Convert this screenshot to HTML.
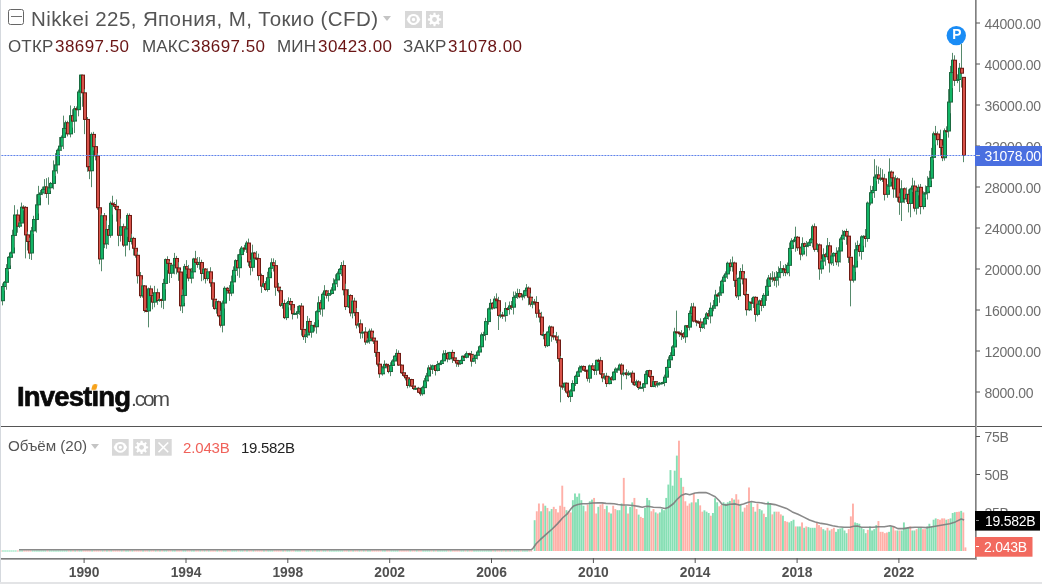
<!DOCTYPE html>
<html><head><meta charset="utf-8"><style>
*{margin:0;padding:0;box-sizing:border-box}
html,body{width:1042px;height:584px;overflow:hidden;background:#fff}
body{position:relative;font-family:"Liberation Sans",sans-serif}
.t,svg{will-change:transform}
.ax{font-family:"Liberation Sans",sans-serif;font-size:14px;letter-spacing:-0.25px;fill:#6e6e6e}
.tx{font-family:"Liberation Sans",sans-serif;font-size:13.8px;font-weight:bold;fill:#505050}
.t{position:absolute;white-space:nowrap;line-height:1}
#lb{position:absolute;left:0;top:0;width:1px;height:584px;background:#d5d9de}
#bb{position:absolute;left:0;top:582px;width:1042px;height:2px;background:#e3e4e6}
.lab{color:#4d4d4d} .val{color:#6a1414;letter-spacing:0.45px!important}
.ib{position:absolute;width:16px;height:16px;background:#dcdcdc}
</style></head><body>
<svg width="1042" height="584" viewBox="0 0 1042 584" style="position:absolute;left:0;top:0">
<g><rect x="-3" y="288.34" width="1" height="13.68" fill="#568a6c"/><rect x="-4" y="290.51" width="4" height="7.69" fill="#1b6a40"/><rect x="-3" y="291.51" width="2" height="5.69" fill="#12b566"/><rect x="0" y="284.95" width="1" height="19.08" fill="#568a6c"/><rect x="-1" y="290.51" width="4" height="10.67" fill="#6e1a13"/><rect x="0" y="291.51" width="2" height="8.67" fill="#d9534a"/><rect x="2" y="283.41" width="1" height="21.93" fill="#568a6c"/><rect x="1" y="286.01" width="4" height="15.17" fill="#1b6a40"/><rect x="2" y="287.01" width="2" height="13.17" fill="#12b566"/><rect x="4" y="280.92" width="1" height="9.69" fill="#568a6c"/><rect x="3" y="281.81" width="4" height="5.19" fill="#1b6a40"/><rect x="4" y="282.81" width="2" height="3.19" fill="#12b566"/><rect x="6" y="264.15" width="1" height="25.56" fill="#568a6c"/><rect x="5" y="268.01" width="4" height="14.81" fill="#1b6a40"/><rect x="6" y="269.01" width="2" height="12.81" fill="#12b566"/><rect x="8" y="256.08" width="1" height="15.29" fill="#568a6c"/><rect x="7" y="256.84" width="4" height="12.17" fill="#1b6a40"/><rect x="8" y="257.84" width="2" height="10.17" fill="#12b566"/><rect x="10" y="251.67" width="1" height="13.83" fill="#568a6c"/><rect x="9" y="252.44" width="4" height="5.40" fill="#1b6a40"/><rect x="10" y="253.44" width="2" height="3.40" fill="#12b566"/><rect x="12" y="229.72" width="1" height="24.95" fill="#568a6c"/><rect x="11" y="234.93" width="4" height="18.51" fill="#1b6a40"/><rect x="12" y="235.93" width="2" height="16.51" fill="#12b566"/><rect x="14" y="205.18" width="1" height="42.33" fill="#568a6c"/><rect x="13" y="214.53" width="4" height="21.40" fill="#1b6a40"/><rect x="14" y="215.53" width="2" height="19.40" fill="#12b566"/><rect x="17" y="209.52" width="1" height="23.19" fill="#568a6c"/><rect x="16" y="214.53" width="4" height="12.16" fill="#6e1a13"/><rect x="17" y="215.53" width="2" height="10.16" fill="#d9534a"/><rect x="19" y="221.30" width="1" height="6.67" fill="#568a6c"/><rect x="18" y="222.50" width="4" height="4.20" fill="#1b6a40"/><rect x="19" y="223.50" width="2" height="2.20" fill="#12b566"/><rect x="21" y="202.60" width="1" height="22.39" fill="#568a6c"/><rect x="20" y="206.70" width="4" height="16.80" fill="#1b6a40"/><rect x="21" y="207.70" width="2" height="14.80" fill="#12b566"/><rect x="23" y="205.23" width="1" height="5.18" fill="#568a6c"/><rect x="22" y="206.70" width="4" height="2.00" fill="#6e1a13"/><rect x="25" y="206.16" width="1" height="52.22" fill="#568a6c"/><rect x="24" y="206.89" width="4" height="28.49" fill="#6e1a13"/><rect x="25" y="207.89" width="2" height="26.49" fill="#d9534a"/><rect x="27" y="231.59" width="1" height="18.92" fill="#568a6c"/><rect x="26" y="234.38" width="4" height="7.58" fill="#6e1a13"/><rect x="27" y="235.38" width="2" height="5.58" fill="#d9534a"/><rect x="29" y="237.72" width="1" height="21.34" fill="#568a6c"/><rect x="28" y="240.96" width="4" height="12.51" fill="#6e1a13"/><rect x="29" y="241.96" width="2" height="10.51" fill="#d9534a"/><rect x="31" y="226.94" width="1" height="33.01" fill="#568a6c"/><rect x="30" y="230.38" width="4" height="23.09" fill="#1b6a40"/><rect x="31" y="231.38" width="2" height="21.09" fill="#12b566"/><rect x="33" y="215.76" width="1" height="18.29" fill="#568a6c"/><rect x="32" y="219.00" width="4" height="12.38" fill="#1b6a40"/><rect x="33" y="220.00" width="2" height="10.38" fill="#12b566"/><rect x="36" y="194.37" width="1" height="38.24" fill="#568a6c"/><rect x="35" y="204.34" width="4" height="15.67" fill="#1b6a40"/><rect x="36" y="205.34" width="2" height="13.67" fill="#12b566"/><rect x="38" y="185.84" width="1" height="27.71" fill="#568a6c"/><rect x="37" y="193.93" width="4" height="11.40" fill="#1b6a40"/><rect x="38" y="194.93" width="2" height="9.40" fill="#12b566"/><rect x="40" y="190.05" width="1" height="7.47" fill="#568a6c"/><rect x="39" y="192.47" width="4" height="2.47" fill="#1b6a40"/><rect x="40" y="193.47" width="2" height="0.47" fill="#12b566"/><rect x="42" y="186.61" width="1" height="8.52" fill="#568a6c"/><rect x="41" y="188.86" width="4" height="4.61" fill="#1b6a40"/><rect x="42" y="189.86" width="2" height="2.61" fill="#12b566"/><rect x="44" y="179.10" width="1" height="15.06" fill="#568a6c"/><rect x="43" y="186.41" width="4" height="3.45" fill="#1b6a40"/><rect x="44" y="187.41" width="2" height="1.45" fill="#12b566"/><rect x="46" y="178.20" width="1" height="19.84" fill="#568a6c"/><rect x="45" y="186.41" width="4" height="7.59" fill="#6e1a13"/><rect x="46" y="187.41" width="2" height="5.59" fill="#d9534a"/><rect x="48" y="177.26" width="1" height="27.46" fill="#568a6c"/><rect x="47" y="187.28" width="4" height="6.72" fill="#1b6a40"/><rect x="48" y="188.28" width="2" height="4.72" fill="#12b566"/><rect x="50" y="181.97" width="1" height="8.85" fill="#568a6c"/><rect x="49" y="182.92" width="4" height="5.36" fill="#1b6a40"/><rect x="50" y="183.92" width="2" height="3.36" fill="#12b566"/><rect x="53" y="160.43" width="1" height="28.92" fill="#568a6c"/><rect x="52" y="170.32" width="4" height="13.61" fill="#1b6a40"/><rect x="53" y="171.32" width="2" height="11.61" fill="#12b566"/><rect x="55" y="153.14" width="1" height="22.80" fill="#568a6c"/><rect x="54" y="164.37" width="4" height="6.95" fill="#1b6a40"/><rect x="55" y="165.37" width="2" height="4.95" fill="#12b566"/><rect x="57" y="148.51" width="1" height="25.11" fill="#568a6c"/><rect x="56" y="149.79" width="4" height="15.58" fill="#1b6a40"/><rect x="57" y="150.79" width="2" height="13.58" fill="#12b566"/><rect x="59" y="137.04" width="1" height="17.25" fill="#568a6c"/><rect x="58" y="145.64" width="4" height="5.15" fill="#1b6a40"/><rect x="59" y="146.64" width="2" height="3.15" fill="#12b566"/><rect x="61" y="135.49" width="1" height="15.44" fill="#568a6c"/><rect x="60" y="136.90" width="4" height="9.74" fill="#1b6a40"/><rect x="61" y="137.90" width="2" height="7.74" fill="#12b566"/><rect x="63" y="115.63" width="1" height="33.50" fill="#568a6c"/><rect x="62" y="127.94" width="4" height="9.96" fill="#1b6a40"/><rect x="63" y="128.94" width="2" height="7.96" fill="#12b566"/><rect x="65" y="120.62" width="1" height="11.85" fill="#568a6c"/><rect x="64" y="122.26" width="4" height="6.68" fill="#1b6a40"/><rect x="65" y="123.26" width="2" height="4.68" fill="#12b566"/><rect x="67" y="120.77" width="1" height="15.65" fill="#568a6c"/><rect x="66" y="122.26" width="4" height="12.11" fill="#6e1a13"/><rect x="67" y="123.26" width="2" height="10.11" fill="#d9534a"/><rect x="70" y="105.46" width="1" height="31.87" fill="#568a6c"/><rect x="69" y="115.22" width="4" height="19.15" fill="#1b6a40"/><rect x="70" y="116.22" width="2" height="17.15" fill="#12b566"/><rect x="72" y="109.22" width="1" height="18.42" fill="#568a6c"/><rect x="71" y="115.22" width="4" height="6.36" fill="#6e1a13"/><rect x="72" y="116.22" width="2" height="4.36" fill="#d9534a"/><rect x="74" y="106.02" width="1" height="26.93" fill="#568a6c"/><rect x="73" y="108.22" width="4" height="13.36" fill="#1b6a40"/><rect x="74" y="109.22" width="2" height="11.36" fill="#12b566"/><rect x="76" y="106.42" width="1" height="13.32" fill="#568a6c"/><rect x="75" y="108.22" width="4" height="2.00" fill="#6e1a13"/><rect x="78" y="89.67" width="1" height="26.65" fill="#568a6c"/><rect x="77" y="91.49" width="4" height="18.63" fill="#1b6a40"/><rect x="78" y="92.49" width="2" height="16.63" fill="#12b566"/><rect x="80" y="74.69" width="1" height="22.15" fill="#568a6c"/><rect x="79" y="74.61" width="4" height="17.88" fill="#1b6a40"/><rect x="80" y="75.61" width="2" height="15.88" fill="#12b566"/><rect x="82" y="77.20" width="1" height="29.56" fill="#568a6c"/><rect x="81" y="74.61" width="4" height="18.70" fill="#6e1a13"/><rect x="82" y="75.61" width="2" height="16.70" fill="#d9534a"/><rect x="84" y="89.24" width="1" height="44.91" fill="#568a6c"/><rect x="83" y="92.31" width="4" height="27.62" fill="#6e1a13"/><rect x="84" y="93.31" width="2" height="25.62" fill="#d9534a"/><rect x="87" y="117.03" width="1" height="54.74" fill="#568a6c"/><rect x="86" y="118.93" width="4" height="48.27" fill="#6e1a13"/><rect x="87" y="119.93" width="2" height="46.27" fill="#d9534a"/><rect x="89" y="157.17" width="1" height="21.97" fill="#568a6c"/><rect x="88" y="166.21" width="4" height="5.05" fill="#6e1a13"/><rect x="89" y="167.21" width="2" height="3.05" fill="#d9534a"/><rect x="91" y="132.42" width="1" height="54.73" fill="#568a6c"/><rect x="90" y="133.91" width="4" height="37.35" fill="#1b6a40"/><rect x="91" y="134.91" width="2" height="35.35" fill="#12b566"/><rect x="93" y="131.83" width="1" height="18.65" fill="#568a6c"/><rect x="92" y="133.91" width="4" height="13.21" fill="#6e1a13"/><rect x="93" y="134.91" width="2" height="11.21" fill="#d9534a"/><rect x="95" y="137.87" width="1" height="22.50" fill="#568a6c"/><rect x="94" y="146.12" width="4" height="10.27" fill="#6e1a13"/><rect x="95" y="147.12" width="2" height="8.27" fill="#d9534a"/><rect x="97" y="153.26" width="1" height="56.50" fill="#568a6c"/><rect x="96" y="155.38" width="4" height="52.84" fill="#6e1a13"/><rect x="97" y="156.38" width="2" height="50.84" fill="#d9534a"/><rect x="99" y="206.49" width="1" height="57.73" fill="#568a6c"/><rect x="98" y="207.23" width="4" height="52.19" fill="#6e1a13"/><rect x="99" y="208.23" width="2" height="50.19" fill="#d9534a"/><rect x="101" y="213.56" width="1" height="57.68" fill="#568a6c"/><rect x="100" y="215.26" width="4" height="44.15" fill="#1b6a40"/><rect x="101" y="216.26" width="2" height="42.15" fill="#12b566"/><rect x="104" y="213.00" width="1" height="35.17" fill="#568a6c"/><rect x="103" y="215.26" width="4" height="29.07" fill="#6e1a13"/><rect x="104" y="216.26" width="2" height="27.07" fill="#d9534a"/><rect x="106" y="220.55" width="1" height="28.21" fill="#568a6c"/><rect x="105" y="229.05" width="4" height="15.29" fill="#1b6a40"/><rect x="106" y="230.05" width="2" height="13.29" fill="#12b566"/><rect x="108" y="225.01" width="1" height="19.88" fill="#568a6c"/><rect x="107" y="229.05" width="4" height="6.70" fill="#6e1a13"/><rect x="108" y="230.05" width="2" height="4.70" fill="#d9534a"/><rect x="110" y="201.35" width="1" height="36.37" fill="#568a6c"/><rect x="109" y="202.81" width="4" height="32.94" fill="#1b6a40"/><rect x="110" y="203.81" width="2" height="30.94" fill="#12b566"/><rect x="112" y="195.75" width="1" height="18.84" fill="#568a6c"/><rect x="111" y="202.81" width="4" height="2.20" fill="#6e1a13"/><rect x="112" y="203.81" width="2" height="0.20" fill="#d9534a"/><rect x="114" y="202.18" width="1" height="6.84" fill="#568a6c"/><rect x="113" y="204.01" width="4" height="2.86" fill="#6e1a13"/><rect x="114" y="205.01" width="2" height="0.86" fill="#d9534a"/><rect x="116" y="199.50" width="1" height="22.07" fill="#568a6c"/><rect x="115" y="205.86" width="4" height="4.29" fill="#6e1a13"/><rect x="116" y="206.86" width="2" height="2.29" fill="#d9534a"/><rect x="118" y="207.86" width="1" height="38.32" fill="#568a6c"/><rect x="117" y="209.15" width="4" height="26.61" fill="#6e1a13"/><rect x="118" y="210.15" width="2" height="24.61" fill="#d9534a"/><rect x="120" y="218.64" width="1" height="22.98" fill="#568a6c"/><rect x="119" y="226.26" width="4" height="9.51" fill="#1b6a40"/><rect x="120" y="227.26" width="2" height="7.51" fill="#12b566"/><rect x="123" y="223.66" width="1" height="23.25" fill="#568a6c"/><rect x="122" y="226.26" width="4" height="19.30" fill="#6e1a13"/><rect x="123" y="227.26" width="2" height="17.30" fill="#d9534a"/><rect x="125" y="227.59" width="1" height="28.87" fill="#568a6c"/><rect x="124" y="228.36" width="4" height="17.19" fill="#1b6a40"/><rect x="125" y="229.36" width="2" height="15.19" fill="#12b566"/><rect x="127" y="213.30" width="1" height="23.58" fill="#568a6c"/><rect x="126" y="214.97" width="4" height="14.39" fill="#1b6a40"/><rect x="127" y="215.97" width="2" height="12.39" fill="#12b566"/><rect x="129" y="213.41" width="1" height="36.83" fill="#568a6c"/><rect x="128" y="214.97" width="4" height="26.98" fill="#6e1a13"/><rect x="129" y="215.97" width="2" height="24.98" fill="#d9534a"/><rect x="131" y="233.73" width="1" height="10.77" fill="#568a6c"/><rect x="130" y="237.91" width="4" height="4.04" fill="#1b6a40"/><rect x="131" y="238.91" width="2" height="2.04" fill="#12b566"/><rect x="133" y="236.81" width="1" height="18.64" fill="#568a6c"/><rect x="132" y="237.91" width="4" height="10.85" fill="#6e1a13"/><rect x="133" y="238.91" width="2" height="8.85" fill="#d9534a"/><rect x="135" y="247.07" width="1" height="10.60" fill="#568a6c"/><rect x="134" y="247.76" width="4" height="8.01" fill="#6e1a13"/><rect x="135" y="248.76" width="2" height="6.01" fill="#d9534a"/><rect x="137" y="251.62" width="1" height="31.92" fill="#568a6c"/><rect x="136" y="254.78" width="4" height="21.43" fill="#6e1a13"/><rect x="137" y="255.78" width="2" height="19.43" fill="#d9534a"/><rect x="140" y="272.03" width="1" height="25.94" fill="#568a6c"/><rect x="139" y="275.20" width="4" height="21.04" fill="#6e1a13"/><rect x="140" y="276.20" width="2" height="19.04" fill="#d9534a"/><rect x="142" y="279.42" width="1" height="18.26" fill="#568a6c"/><rect x="141" y="285.43" width="4" height="10.81" fill="#1b6a40"/><rect x="142" y="286.43" width="2" height="8.81" fill="#12b566"/><rect x="144" y="285.11" width="1" height="27.37" fill="#568a6c"/><rect x="143" y="285.43" width="4" height="25.56" fill="#6e1a13"/><rect x="144" y="286.43" width="2" height="23.56" fill="#d9534a"/><rect x="146" y="308.15" width="1" height="3.99" fill="#568a6c"/><rect x="145" y="309.99" width="4" height="2.00" fill="#6e1a13"/><rect x="148" y="287.56" width="1" height="39.78" fill="#568a6c"/><rect x="147" y="288.37" width="4" height="23.05" fill="#1b6a40"/><rect x="148" y="289.37" width="2" height="21.05" fill="#12b566"/><rect x="150" y="285.50" width="1" height="11.70" fill="#568a6c"/><rect x="149" y="288.37" width="4" height="7.79" fill="#6e1a13"/><rect x="150" y="289.37" width="2" height="5.79" fill="#d9534a"/><rect x="152" y="293.65" width="1" height="15.68" fill="#568a6c"/><rect x="151" y="295.16" width="4" height="7.47" fill="#6e1a13"/><rect x="152" y="296.16" width="2" height="5.47" fill="#d9534a"/><rect x="154" y="285.86" width="1" height="21.42" fill="#568a6c"/><rect x="153" y="292.24" width="4" height="10.39" fill="#1b6a40"/><rect x="154" y="293.24" width="2" height="8.39" fill="#12b566"/><rect x="157" y="288.60" width="1" height="16.21" fill="#568a6c"/><rect x="156" y="292.24" width="4" height="8.78" fill="#6e1a13"/><rect x="157" y="293.24" width="2" height="6.78" fill="#d9534a"/><rect x="159" y="298.38" width="1" height="3.40" fill="#568a6c"/><rect x="158" y="299.00" width="4" height="2.01" fill="#1b6a40"/><rect x="159" y="300.00" width="2" height="0.01" fill="#12b566"/><rect x="161" y="298.63" width="1" height="9.10" fill="#568a6c"/><rect x="160" y="299.00" width="4" height="2.00" fill="#6e1a13"/><rect x="163" y="278.82" width="1" height="30.28" fill="#568a6c"/><rect x="162" y="282.94" width="4" height="17.79" fill="#1b6a40"/><rect x="163" y="283.94" width="2" height="15.79" fill="#12b566"/><rect x="165" y="258.49" width="1" height="30.82" fill="#568a6c"/><rect x="164" y="259.08" width="4" height="24.86" fill="#1b6a40"/><rect x="165" y="260.08" width="2" height="22.86" fill="#12b566"/><rect x="167" y="256.30" width="1" height="13.87" fill="#568a6c"/><rect x="166" y="259.08" width="4" height="4.76" fill="#6e1a13"/><rect x="167" y="260.08" width="2" height="2.76" fill="#d9534a"/><rect x="169" y="261.24" width="1" height="21.78" fill="#568a6c"/><rect x="168" y="262.84" width="4" height="10.85" fill="#6e1a13"/><rect x="169" y="263.84" width="2" height="8.85" fill="#d9534a"/><rect x="171" y="263.95" width="1" height="14.04" fill="#568a6c"/><rect x="170" y="264.61" width="4" height="9.09" fill="#1b6a40"/><rect x="171" y="265.61" width="2" height="7.09" fill="#12b566"/><rect x="174" y="252.90" width="1" height="21.37" fill="#568a6c"/><rect x="173" y="257.97" width="4" height="7.63" fill="#1b6a40"/><rect x="174" y="258.97" width="2" height="5.63" fill="#12b566"/><rect x="176" y="255.87" width="1" height="18.42" fill="#568a6c"/><rect x="175" y="257.97" width="4" height="10.44" fill="#6e1a13"/><rect x="176" y="258.97" width="2" height="8.44" fill="#d9534a"/><rect x="178" y="262.16" width="1" height="18.65" fill="#568a6c"/><rect x="177" y="267.41" width="4" height="5.13" fill="#6e1a13"/><rect x="178" y="268.41" width="2" height="3.13" fill="#d9534a"/><rect x="180" y="270.13" width="1" height="40.72" fill="#568a6c"/><rect x="179" y="271.54" width="4" height="34.77" fill="#6e1a13"/><rect x="180" y="272.54" width="2" height="32.77" fill="#d9534a"/><rect x="182" y="289.45" width="1" height="23.63" fill="#568a6c"/><rect x="181" y="294.98" width="4" height="11.34" fill="#1b6a40"/><rect x="182" y="295.98" width="2" height="9.34" fill="#12b566"/><rect x="184" y="263.88" width="1" height="39.03" fill="#568a6c"/><rect x="183" y="266.15" width="4" height="29.82" fill="#1b6a40"/><rect x="184" y="267.15" width="2" height="27.82" fill="#12b566"/><rect x="186" y="260.12" width="1" height="13.88" fill="#568a6c"/><rect x="185" y="266.15" width="4" height="3.38" fill="#6e1a13"/><rect x="186" y="267.15" width="2" height="1.38" fill="#d9534a"/><rect x="188" y="264.91" width="1" height="16.33" fill="#568a6c"/><rect x="187" y="268.53" width="4" height="10.07" fill="#6e1a13"/><rect x="188" y="269.53" width="2" height="8.07" fill="#d9534a"/><rect x="191" y="267.91" width="1" height="15.45" fill="#568a6c"/><rect x="190" y="271.32" width="4" height="7.28" fill="#1b6a40"/><rect x="191" y="272.32" width="2" height="5.28" fill="#12b566"/><rect x="193" y="257.81" width="1" height="19.93" fill="#568a6c"/><rect x="192" y="258.52" width="4" height="13.80" fill="#1b6a40"/><rect x="193" y="259.52" width="2" height="11.80" fill="#12b566"/><rect x="195" y="250.84" width="1" height="20.28" fill="#568a6c"/><rect x="194" y="258.52" width="4" height="4.38" fill="#6e1a13"/><rect x="195" y="259.52" width="2" height="2.38" fill="#d9534a"/><rect x="197" y="257.06" width="1" height="10.74" fill="#568a6c"/><rect x="196" y="261.90" width="4" height="3.00" fill="#6e1a13"/><rect x="197" y="262.90" width="2" height="1.00" fill="#d9534a"/><rect x="199" y="257.10" width="1" height="12.50" fill="#568a6c"/><rect x="198" y="262.05" width="4" height="2.84" fill="#1b6a40"/><rect x="199" y="263.05" width="2" height="0.84" fill="#12b566"/><rect x="201" y="259.71" width="1" height="21.51" fill="#568a6c"/><rect x="200" y="262.05" width="4" height="11.92" fill="#6e1a13"/><rect x="201" y="263.05" width="2" height="9.92" fill="#d9534a"/><rect x="203" y="267.95" width="1" height="12.39" fill="#568a6c"/><rect x="202" y="268.60" width="4" height="5.37" fill="#1b6a40"/><rect x="203" y="269.60" width="2" height="3.37" fill="#12b566"/><rect x="205" y="268.10" width="1" height="15.38" fill="#568a6c"/><rect x="204" y="268.60" width="4" height="10.37" fill="#6e1a13"/><rect x="205" y="269.60" width="2" height="8.37" fill="#d9534a"/><rect x="207" y="268.70" width="1" height="12.00" fill="#568a6c"/><rect x="206" y="271.34" width="4" height="7.63" fill="#1b6a40"/><rect x="207" y="272.34" width="2" height="5.63" fill="#12b566"/><rect x="210" y="267.22" width="1" height="19.58" fill="#568a6c"/><rect x="209" y="271.34" width="4" height="12.00" fill="#6e1a13"/><rect x="210" y="272.34" width="2" height="10.00" fill="#d9534a"/><rect x="212" y="279.24" width="1" height="27.62" fill="#568a6c"/><rect x="211" y="282.34" width="4" height="17.37" fill="#6e1a13"/><rect x="212" y="283.34" width="2" height="15.37" fill="#d9534a"/><rect x="214" y="297.74" width="1" height="11.98" fill="#568a6c"/><rect x="213" y="298.71" width="4" height="10.36" fill="#6e1a13"/><rect x="214" y="299.71" width="2" height="8.36" fill="#d9534a"/><rect x="216" y="300.01" width="1" height="13.65" fill="#568a6c"/><rect x="215" y="301.23" width="4" height="7.84" fill="#1b6a40"/><rect x="216" y="302.23" width="2" height="5.84" fill="#12b566"/><rect x="218" y="300.52" width="1" height="16.75" fill="#568a6c"/><rect x="217" y="301.23" width="4" height="15.04" fill="#6e1a13"/><rect x="218" y="302.23" width="2" height="13.04" fill="#d9534a"/><rect x="220" y="310.71" width="1" height="16.77" fill="#568a6c"/><rect x="219" y="315.27" width="4" height="10.43" fill="#6e1a13"/><rect x="220" y="316.27" width="2" height="8.43" fill="#d9534a"/><rect x="222" y="300.62" width="1" height="31.75" fill="#568a6c"/><rect x="221" y="302.55" width="4" height="23.15" fill="#1b6a40"/><rect x="222" y="303.55" width="2" height="21.15" fill="#12b566"/><rect x="224" y="286.32" width="1" height="22.10" fill="#568a6c"/><rect x="223" y="287.80" width="4" height="15.75" fill="#1b6a40"/><rect x="224" y="288.80" width="2" height="13.75" fill="#12b566"/><rect x="227" y="286.91" width="1" height="6.77" fill="#568a6c"/><rect x="226" y="287.80" width="4" height="3.09" fill="#6e1a13"/><rect x="227" y="288.80" width="2" height="1.09" fill="#d9534a"/><rect x="229" y="285.13" width="1" height="15.76" fill="#568a6c"/><rect x="228" y="289.89" width="4" height="3.64" fill="#6e1a13"/><rect x="229" y="290.89" width="2" height="1.64" fill="#d9534a"/><rect x="231" y="275.59" width="1" height="20.54" fill="#568a6c"/><rect x="230" y="281.37" width="4" height="12.16" fill="#1b6a40"/><rect x="231" y="282.37" width="2" height="10.16" fill="#12b566"/><rect x="233" y="266.41" width="1" height="18.24" fill="#568a6c"/><rect x="232" y="269.85" width="4" height="12.52" fill="#1b6a40"/><rect x="233" y="270.85" width="2" height="10.52" fill="#12b566"/><rect x="235" y="259.30" width="1" height="15.47" fill="#568a6c"/><rect x="234" y="260.17" width="4" height="10.69" fill="#1b6a40"/><rect x="235" y="261.17" width="2" height="8.69" fill="#12b566"/><rect x="237" y="254.36" width="1" height="21.47" fill="#568a6c"/><rect x="236" y="260.17" width="4" height="8.05" fill="#6e1a13"/><rect x="237" y="261.17" width="2" height="6.05" fill="#d9534a"/><rect x="239" y="249.16" width="1" height="28.59" fill="#568a6c"/><rect x="238" y="254.08" width="4" height="14.14" fill="#1b6a40"/><rect x="239" y="255.08" width="2" height="12.14" fill="#12b566"/><rect x="241" y="245.97" width="1" height="10.75" fill="#568a6c"/><rect x="240" y="247.58" width="4" height="7.50" fill="#1b6a40"/><rect x="241" y="248.58" width="2" height="5.50" fill="#12b566"/><rect x="244" y="244.82" width="1" height="6.91" fill="#568a6c"/><rect x="243" y="247.58" width="4" height="2.00" fill="#6e1a13"/><rect x="246" y="240.81" width="1" height="12.12" fill="#568a6c"/><rect x="245" y="242.56" width="4" height="6.89" fill="#1b6a40"/><rect x="246" y="243.56" width="2" height="4.89" fill="#12b566"/><rect x="248" y="238.59" width="1" height="27.67" fill="#568a6c"/><rect x="247" y="242.56" width="4" height="19.84" fill="#6e1a13"/><rect x="248" y="243.56" width="2" height="17.84" fill="#d9534a"/><rect x="250" y="259.75" width="1" height="15.54" fill="#568a6c"/><rect x="249" y="261.40" width="4" height="6.39" fill="#6e1a13"/><rect x="250" y="262.40" width="2" height="4.39" fill="#d9534a"/><rect x="252" y="244.65" width="1" height="26.80" fill="#568a6c"/><rect x="251" y="252.55" width="4" height="15.24" fill="#1b6a40"/><rect x="252" y="253.55" width="2" height="13.24" fill="#12b566"/><rect x="254" y="251.86" width="1" height="7.81" fill="#568a6c"/><rect x="253" y="252.55" width="4" height="6.06" fill="#6e1a13"/><rect x="254" y="253.55" width="2" height="4.06" fill="#d9534a"/><rect x="256" y="251.14" width="1" height="8.96" fill="#568a6c"/><rect x="255" y="257.61" width="4" height="2.00" fill="#6e1a13"/><rect x="258" y="253.66" width="1" height="26.67" fill="#568a6c"/><rect x="257" y="258.05" width="4" height="18.00" fill="#6e1a13"/><rect x="258" y="259.05" width="2" height="16.00" fill="#d9534a"/><rect x="261" y="273.63" width="1" height="19.23" fill="#568a6c"/><rect x="260" y="275.05" width="4" height="11.57" fill="#6e1a13"/><rect x="261" y="276.05" width="2" height="9.57" fill="#d9534a"/><rect x="263" y="282.83" width="1" height="4.95" fill="#568a6c"/><rect x="262" y="283.29" width="4" height="3.33" fill="#1b6a40"/><rect x="263" y="284.29" width="2" height="1.33" fill="#12b566"/><rect x="265" y="281.09" width="1" height="9.69" fill="#568a6c"/><rect x="264" y="283.29" width="4" height="6.68" fill="#6e1a13"/><rect x="265" y="284.29" width="2" height="4.68" fill="#d9534a"/><rect x="267" y="271.77" width="1" height="19.90" fill="#568a6c"/><rect x="266" y="277.20" width="4" height="12.77" fill="#1b6a40"/><rect x="267" y="278.20" width="2" height="10.77" fill="#12b566"/><rect x="269" y="266.96" width="1" height="12.25" fill="#568a6c"/><rect x="268" y="267.79" width="4" height="10.41" fill="#1b6a40"/><rect x="269" y="268.79" width="2" height="8.41" fill="#12b566"/><rect x="271" y="258.32" width="1" height="13.89" fill="#568a6c"/><rect x="270" y="262.30" width="4" height="6.49" fill="#1b6a40"/><rect x="271" y="263.30" width="2" height="4.49" fill="#12b566"/><rect x="273" y="258.37" width="1" height="13.14" fill="#568a6c"/><rect x="272" y="262.30" width="4" height="3.81" fill="#6e1a13"/><rect x="273" y="263.30" width="2" height="1.81" fill="#d9534a"/><rect x="275" y="260.16" width="1" height="35.63" fill="#568a6c"/><rect x="274" y="265.11" width="4" height="22.55" fill="#6e1a13"/><rect x="275" y="266.11" width="2" height="20.55" fill="#d9534a"/><rect x="278" y="282.84" width="1" height="9.68" fill="#568a6c"/><rect x="277" y="286.65" width="4" height="4.50" fill="#6e1a13"/><rect x="278" y="287.65" width="2" height="2.50" fill="#d9534a"/><rect x="280" y="288.06" width="1" height="18.87" fill="#568a6c"/><rect x="279" y="290.15" width="4" height="15.65" fill="#6e1a13"/><rect x="280" y="291.15" width="2" height="13.65" fill="#d9534a"/><rect x="282" y="302.62" width="1" height="6.02" fill="#568a6c"/><rect x="281" y="302.98" width="4" height="2.81" fill="#1b6a40"/><rect x="282" y="303.98" width="2" height="0.81" fill="#12b566"/><rect x="284" y="299.60" width="1" height="19.51" fill="#568a6c"/><rect x="283" y="302.98" width="4" height="15.11" fill="#6e1a13"/><rect x="284" y="303.98" width="2" height="13.11" fill="#d9534a"/><rect x="286" y="301.98" width="1" height="18.12" fill="#568a6c"/><rect x="285" y="303.05" width="4" height="15.04" fill="#1b6a40"/><rect x="286" y="304.05" width="2" height="13.04" fill="#12b566"/><rect x="288" y="297.33" width="1" height="9.98" fill="#568a6c"/><rect x="287" y="300.98" width="4" height="3.07" fill="#1b6a40"/><rect x="288" y="301.98" width="2" height="1.07" fill="#12b566"/><rect x="290" y="297.99" width="1" height="12.34" fill="#568a6c"/><rect x="289" y="300.98" width="4" height="4.12" fill="#6e1a13"/><rect x="290" y="301.98" width="2" height="2.12" fill="#d9534a"/><rect x="292" y="302.57" width="1" height="16.87" fill="#568a6c"/><rect x="291" y="304.10" width="4" height="10.08" fill="#6e1a13"/><rect x="292" y="305.10" width="2" height="8.08" fill="#d9534a"/><rect x="294" y="307.90" width="1" height="7.04" fill="#568a6c"/><rect x="293" y="312.87" width="4" height="2.00" fill="#1b6a40"/><rect x="297" y="306.00" width="1" height="12.56" fill="#568a6c"/><rect x="296" y="311.24" width="4" height="2.63" fill="#1b6a40"/><rect x="297" y="312.24" width="2" height="0.63" fill="#12b566"/><rect x="299" y="305.06" width="1" height="9.85" fill="#568a6c"/><rect x="298" y="305.62" width="4" height="6.63" fill="#1b6a40"/><rect x="299" y="306.62" width="2" height="4.63" fill="#12b566"/><rect x="301" y="303.07" width="1" height="32.56" fill="#568a6c"/><rect x="300" y="305.62" width="4" height="24.28" fill="#6e1a13"/><rect x="301" y="306.62" width="2" height="22.28" fill="#d9534a"/><rect x="303" y="327.73" width="1" height="12.16" fill="#568a6c"/><rect x="302" y="328.89" width="4" height="8.20" fill="#6e1a13"/><rect x="303" y="329.89" width="2" height="6.20" fill="#d9534a"/><rect x="305" y="330.42" width="1" height="12.52" fill="#568a6c"/><rect x="304" y="334.46" width="4" height="2.63" fill="#1b6a40"/><rect x="305" y="335.46" width="2" height="0.63" fill="#12b566"/><rect x="307" y="315.95" width="1" height="21.95" fill="#568a6c"/><rect x="306" y="320.95" width="4" height="14.51" fill="#1b6a40"/><rect x="307" y="321.95" width="2" height="12.51" fill="#12b566"/><rect x="309" y="318.31" width="1" height="15.27" fill="#568a6c"/><rect x="308" y="320.95" width="4" height="11.67" fill="#6e1a13"/><rect x="309" y="321.95" width="2" height="9.67" fill="#d9534a"/><rect x="311" y="321.63" width="1" height="16.06" fill="#568a6c"/><rect x="310" y="324.88" width="4" height="7.74" fill="#1b6a40"/><rect x="311" y="325.88" width="2" height="5.74" fill="#12b566"/><rect x="314" y="322.18" width="1" height="9.22" fill="#568a6c"/><rect x="313" y="324.88" width="4" height="2.35" fill="#6e1a13"/><rect x="314" y="325.88" width="2" height="0.35" fill="#d9534a"/><rect x="316" y="310.39" width="1" height="23.23" fill="#568a6c"/><rect x="315" y="311.17" width="4" height="16.06" fill="#1b6a40"/><rect x="316" y="312.17" width="2" height="14.06" fill="#12b566"/><rect x="318" y="296.31" width="1" height="23.49" fill="#568a6c"/><rect x="317" y="302.30" width="4" height="9.87" fill="#1b6a40"/><rect x="318" y="303.30" width="2" height="7.87" fill="#12b566"/><rect x="320" y="299.90" width="1" height="14.87" fill="#568a6c"/><rect x="319" y="302.30" width="4" height="7.05" fill="#6e1a13"/><rect x="320" y="303.30" width="2" height="5.05" fill="#d9534a"/><rect x="322" y="292.43" width="1" height="24.17" fill="#568a6c"/><rect x="321" y="293.82" width="4" height="15.53" fill="#1b6a40"/><rect x="322" y="294.82" width="2" height="13.53" fill="#12b566"/><rect x="324" y="285.15" width="1" height="11.88" fill="#568a6c"/><rect x="323" y="290.41" width="4" height="4.40" fill="#1b6a40"/><rect x="324" y="291.41" width="2" height="2.40" fill="#12b566"/><rect x="326" y="289.91" width="1" height="8.64" fill="#568a6c"/><rect x="325" y="290.41" width="4" height="5.36" fill="#6e1a13"/><rect x="326" y="291.41" width="2" height="3.36" fill="#d9534a"/><rect x="328" y="290.29" width="1" height="11.22" fill="#568a6c"/><rect x="327" y="293.05" width="4" height="2.72" fill="#1b6a40"/><rect x="328" y="294.05" width="2" height="0.72" fill="#12b566"/><rect x="331" y="287.18" width="1" height="7.68" fill="#568a6c"/><rect x="330" y="289.58" width="4" height="4.46" fill="#1b6a40"/><rect x="331" y="290.58" width="2" height="2.46" fill="#12b566"/><rect x="333" y="278.22" width="1" height="13.29" fill="#568a6c"/><rect x="332" y="283.28" width="4" height="7.30" fill="#1b6a40"/><rect x="333" y="284.28" width="2" height="5.30" fill="#12b566"/><rect x="335" y="274.34" width="1" height="11.29" fill="#568a6c"/><rect x="334" y="279.43" width="4" height="4.85" fill="#1b6a40"/><rect x="335" y="280.43" width="2" height="2.85" fill="#12b566"/><rect x="337" y="271.53" width="1" height="15.54" fill="#568a6c"/><rect x="336" y="273.22" width="4" height="7.21" fill="#1b6a40"/><rect x="337" y="274.22" width="2" height="5.21" fill="#12b566"/><rect x="339" y="268.09" width="1" height="7.47" fill="#568a6c"/><rect x="338" y="268.91" width="4" height="5.31" fill="#1b6a40"/><rect x="339" y="269.91" width="2" height="3.31" fill="#12b566"/><rect x="341" y="262.04" width="1" height="14.05" fill="#568a6c"/><rect x="340" y="265.05" width="4" height="4.86" fill="#1b6a40"/><rect x="341" y="266.05" width="2" height="2.86" fill="#12b566"/><rect x="343" y="260.46" width="1" height="34.86" fill="#568a6c"/><rect x="342" y="265.05" width="4" height="25.22" fill="#6e1a13"/><rect x="343" y="266.05" width="2" height="23.22" fill="#d9534a"/><rect x="345" y="283.72" width="1" height="26.31" fill="#568a6c"/><rect x="344" y="289.27" width="4" height="17.83" fill="#6e1a13"/><rect x="345" y="290.27" width="2" height="15.83" fill="#d9534a"/><rect x="348" y="289.06" width="1" height="18.93" fill="#568a6c"/><rect x="347" y="295.04" width="4" height="12.06" fill="#1b6a40"/><rect x="348" y="296.04" width="2" height="10.06" fill="#12b566"/><rect x="350" y="294.24" width="1" height="22.11" fill="#568a6c"/><rect x="349" y="295.04" width="4" height="18.26" fill="#6e1a13"/><rect x="350" y="296.04" width="2" height="16.26" fill="#d9534a"/><rect x="352" y="299.50" width="1" height="18.88" fill="#568a6c"/><rect x="351" y="300.67" width="4" height="12.62" fill="#1b6a40"/><rect x="352" y="301.67" width="2" height="10.62" fill="#12b566"/><rect x="354" y="297.69" width="1" height="18.44" fill="#568a6c"/><rect x="353" y="300.67" width="4" height="12.42" fill="#6e1a13"/><rect x="354" y="301.67" width="2" height="10.42" fill="#d9534a"/><rect x="356" y="307.99" width="1" height="20.50" fill="#568a6c"/><rect x="355" y="312.09" width="4" height="13.37" fill="#6e1a13"/><rect x="356" y="313.09" width="2" height="11.37" fill="#d9534a"/><rect x="358" y="322.31" width="1" height="5.06" fill="#568a6c"/><rect x="357" y="323.35" width="4" height="2.12" fill="#1b6a40"/><rect x="358" y="324.35" width="2" height="0.12" fill="#12b566"/><rect x="360" y="319.47" width="1" height="19.23" fill="#568a6c"/><rect x="359" y="323.35" width="4" height="9.85" fill="#6e1a13"/><rect x="360" y="324.35" width="2" height="7.85" fill="#d9534a"/><rect x="362" y="331.01" width="1" height="7.28" fill="#568a6c"/><rect x="361" y="331.61" width="4" height="2.00" fill="#1b6a40"/><rect x="365" y="327.18" width="1" height="17.65" fill="#568a6c"/><rect x="364" y="331.61" width="4" height="10.83" fill="#6e1a13"/><rect x="365" y="332.61" width="2" height="8.83" fill="#d9534a"/><rect x="367" y="338.24" width="1" height="5.07" fill="#568a6c"/><rect x="366" y="340.26" width="4" height="2.18" fill="#1b6a40"/><rect x="367" y="341.26" width="2" height="0.18" fill="#12b566"/><rect x="369" y="328.67" width="1" height="15.09" fill="#568a6c"/><rect x="368" y="330.68" width="4" height="10.58" fill="#1b6a40"/><rect x="369" y="331.68" width="2" height="8.58" fill="#12b566"/><rect x="371" y="328.43" width="1" height="10.61" fill="#568a6c"/><rect x="370" y="330.68" width="4" height="7.89" fill="#6e1a13"/><rect x="371" y="331.68" width="2" height="5.89" fill="#d9534a"/><rect x="373" y="333.10" width="1" height="10.84" fill="#568a6c"/><rect x="372" y="337.56" width="4" height="4.00" fill="#6e1a13"/><rect x="373" y="338.56" width="2" height="2.00" fill="#d9534a"/><rect x="375" y="339.50" width="1" height="17.35" fill="#568a6c"/><rect x="374" y="340.57" width="4" height="12.36" fill="#6e1a13"/><rect x="375" y="341.57" width="2" height="10.36" fill="#d9534a"/><rect x="377" y="350.39" width="1" height="16.04" fill="#568a6c"/><rect x="376" y="351.92" width="4" height="12.76" fill="#6e1a13"/><rect x="377" y="352.92" width="2" height="10.76" fill="#d9534a"/><rect x="379" y="361.79" width="1" height="16.04" fill="#568a6c"/><rect x="378" y="363.68" width="4" height="10.62" fill="#6e1a13"/><rect x="379" y="364.68" width="2" height="8.62" fill="#d9534a"/><rect x="382" y="365.87" width="1" height="9.76" fill="#568a6c"/><rect x="381" y="367.25" width="4" height="7.06" fill="#1b6a40"/><rect x="382" y="368.25" width="2" height="5.06" fill="#12b566"/><rect x="384" y="360.33" width="1" height="12.24" fill="#568a6c"/><rect x="383" y="363.86" width="4" height="4.39" fill="#1b6a40"/><rect x="384" y="364.86" width="2" height="2.39" fill="#12b566"/><rect x="386" y="363.37" width="1" height="4.70" fill="#568a6c"/><rect x="385" y="363.86" width="4" height="2.58" fill="#6e1a13"/><rect x="386" y="364.86" width="2" height="0.58" fill="#d9534a"/><rect x="388" y="365.29" width="1" height="8.07" fill="#568a6c"/><rect x="387" y="365.43" width="4" height="6.59" fill="#6e1a13"/><rect x="388" y="366.43" width="2" height="4.59" fill="#d9534a"/><rect x="390" y="362.27" width="1" height="13.87" fill="#568a6c"/><rect x="389" y="364.97" width="4" height="7.05" fill="#1b6a40"/><rect x="390" y="365.97" width="2" height="5.05" fill="#12b566"/><rect x="392" y="359.26" width="1" height="7.76" fill="#568a6c"/><rect x="391" y="360.49" width="4" height="5.48" fill="#1b6a40"/><rect x="392" y="361.49" width="2" height="3.48" fill="#12b566"/><rect x="394" y="355.32" width="1" height="8.79" fill="#568a6c"/><rect x="393" y="355.70" width="4" height="5.80" fill="#1b6a40"/><rect x="394" y="356.70" width="2" height="3.80" fill="#12b566"/><rect x="396" y="349.20" width="1" height="8.04" fill="#568a6c"/><rect x="395" y="352.92" width="4" height="3.78" fill="#1b6a40"/><rect x="396" y="353.92" width="2" height="1.78" fill="#12b566"/><rect x="398" y="350.39" width="1" height="15.51" fill="#568a6c"/><rect x="397" y="352.92" width="4" height="12.71" fill="#6e1a13"/><rect x="398" y="353.92" width="2" height="10.71" fill="#d9534a"/><rect x="401" y="364.37" width="1" height="9.49" fill="#568a6c"/><rect x="400" y="364.62" width="4" height="8.63" fill="#6e1a13"/><rect x="401" y="365.62" width="2" height="6.63" fill="#d9534a"/><rect x="403" y="370.42" width="1" height="6.35" fill="#568a6c"/><rect x="402" y="372.25" width="4" height="3.65" fill="#6e1a13"/><rect x="403" y="373.25" width="2" height="1.65" fill="#d9534a"/><rect x="405" y="374.30" width="1" height="6.08" fill="#568a6c"/><rect x="404" y="374.91" width="4" height="3.42" fill="#6e1a13"/><rect x="405" y="375.91" width="2" height="1.42" fill="#d9534a"/><rect x="407" y="377.30" width="1" height="11.01" fill="#568a6c"/><rect x="406" y="377.32" width="4" height="8.62" fill="#6e1a13"/><rect x="407" y="378.32" width="2" height="6.62" fill="#d9534a"/><rect x="409" y="378.95" width="1" height="8.50" fill="#568a6c"/><rect x="408" y="379.04" width="4" height="6.90" fill="#1b6a40"/><rect x="409" y="380.04" width="2" height="4.90" fill="#12b566"/><rect x="411" y="378.77" width="1" height="8.19" fill="#568a6c"/><rect x="410" y="379.04" width="4" height="7.53" fill="#6e1a13"/><rect x="411" y="380.04" width="2" height="5.53" fill="#d9534a"/><rect x="413" y="384.58" width="1" height="5.48" fill="#568a6c"/><rect x="412" y="385.57" width="4" height="3.45" fill="#6e1a13"/><rect x="413" y="386.57" width="2" height="1.45" fill="#d9534a"/><rect x="415" y="387.24" width="1" height="2.75" fill="#568a6c"/><rect x="414" y="387.78" width="4" height="2.00" fill="#1b6a40"/><rect x="418" y="386.87" width="1" height="6.16" fill="#568a6c"/><rect x="417" y="387.78" width="4" height="5.00" fill="#6e1a13"/><rect x="418" y="388.78" width="2" height="3.00" fill="#d9534a"/><rect x="420" y="391.66" width="1" height="4.41" fill="#568a6c"/><rect x="419" y="391.78" width="4" height="2.46" fill="#6e1a13"/><rect x="420" y="392.78" width="2" height="0.46" fill="#d9534a"/><rect x="422" y="385.78" width="1" height="9.87" fill="#568a6c"/><rect x="421" y="387.14" width="4" height="7.09" fill="#1b6a40"/><rect x="422" y="388.14" width="2" height="5.09" fill="#12b566"/><rect x="424" y="377.99" width="1" height="12.09" fill="#568a6c"/><rect x="423" y="380.40" width="4" height="7.74" fill="#1b6a40"/><rect x="424" y="381.40" width="2" height="5.74" fill="#12b566"/><rect x="426" y="372.89" width="1" height="9.10" fill="#568a6c"/><rect x="425" y="375.48" width="4" height="5.92" fill="#1b6a40"/><rect x="426" y="376.48" width="2" height="3.92" fill="#12b566"/><rect x="428" y="365.21" width="1" height="14.69" fill="#568a6c"/><rect x="427" y="367.47" width="4" height="9.01" fill="#1b6a40"/><rect x="428" y="368.47" width="2" height="7.01" fill="#12b566"/><rect x="430" y="364.43" width="1" height="6.26" fill="#568a6c"/><rect x="429" y="367.47" width="4" height="2.28" fill="#6e1a13"/><rect x="430" y="368.47" width="2" height="0.28" fill="#d9534a"/><rect x="432" y="364.64" width="1" height="9.37" fill="#568a6c"/><rect x="431" y="365.26" width="4" height="4.50" fill="#1b6a40"/><rect x="432" y="366.26" width="2" height="2.50" fill="#12b566"/><rect x="435" y="364.93" width="1" height="10.59" fill="#568a6c"/><rect x="434" y="365.26" width="4" height="5.70" fill="#6e1a13"/><rect x="435" y="366.26" width="2" height="3.70" fill="#d9534a"/><rect x="437" y="360.94" width="1" height="10.48" fill="#568a6c"/><rect x="436" y="364.06" width="4" height="6.90" fill="#1b6a40"/><rect x="437" y="365.06" width="2" height="4.90" fill="#12b566"/><rect x="439" y="362.53" width="1" height="5.59" fill="#568a6c"/><rect x="438" y="362.96" width="4" height="2.10" fill="#1b6a40"/><rect x="439" y="363.96" width="2" height="0.10" fill="#12b566"/><rect x="441" y="359.81" width="1" height="4.56" fill="#568a6c"/><rect x="440" y="360.32" width="4" height="3.64" fill="#1b6a40"/><rect x="441" y="361.32" width="2" height="1.64" fill="#12b566"/><rect x="443" y="350.28" width="1" height="12.65" fill="#568a6c"/><rect x="442" y="353.42" width="4" height="7.90" fill="#1b6a40"/><rect x="443" y="354.42" width="2" height="5.90" fill="#12b566"/><rect x="445" y="350.03" width="1" height="4.92" fill="#568a6c"/><rect x="444" y="352.94" width="4" height="2.00" fill="#1b6a40"/><rect x="447" y="351.95" width="1" height="10.33" fill="#568a6c"/><rect x="446" y="352.94" width="4" height="6.39" fill="#6e1a13"/><rect x="447" y="353.94" width="2" height="4.39" fill="#d9534a"/><rect x="449" y="351.83" width="1" height="8.24" fill="#568a6c"/><rect x="448" y="351.95" width="4" height="7.39" fill="#1b6a40"/><rect x="449" y="352.95" width="2" height="5.39" fill="#12b566"/><rect x="452" y="349.72" width="1" height="13.20" fill="#568a6c"/><rect x="451" y="351.95" width="4" height="6.46" fill="#6e1a13"/><rect x="452" y="352.95" width="2" height="4.46" fill="#d9534a"/><rect x="454" y="353.67" width="1" height="7.68" fill="#568a6c"/><rect x="453" y="357.41" width="4" height="3.50" fill="#6e1a13"/><rect x="454" y="358.41" width="2" height="1.50" fill="#d9534a"/><rect x="456" y="358.59" width="1" height="8.23" fill="#568a6c"/><rect x="455" y="359.91" width="4" height="3.64" fill="#6e1a13"/><rect x="456" y="360.91" width="2" height="1.64" fill="#d9534a"/><rect x="458" y="361.25" width="1" height="5.65" fill="#568a6c"/><rect x="457" y="362.55" width="4" height="2.00" fill="#6e1a13"/><rect x="460" y="359.71" width="1" height="4.75" fill="#568a6c"/><rect x="459" y="360.04" width="4" height="4.05" fill="#1b6a40"/><rect x="460" y="361.04" width="2" height="2.05" fill="#12b566"/><rect x="462" y="355.54" width="1" height="5.85" fill="#568a6c"/><rect x="461" y="355.74" width="4" height="5.31" fill="#1b6a40"/><rect x="462" y="356.74" width="2" height="3.31" fill="#12b566"/><rect x="464" y="354.12" width="1" height="5.66" fill="#568a6c"/><rect x="463" y="355.74" width="4" height="2.04" fill="#6e1a13"/><rect x="464" y="356.74" width="2" height="0.04" fill="#d9534a"/><rect x="466" y="351.39" width="1" height="6.96" fill="#568a6c"/><rect x="465" y="353.15" width="4" height="4.62" fill="#1b6a40"/><rect x="466" y="354.15" width="2" height="2.62" fill="#12b566"/><rect x="469" y="352.78" width="1" height="2.84" fill="#568a6c"/><rect x="468" y="353.15" width="4" height="2.00" fill="#6e1a13"/><rect x="471" y="350.92" width="1" height="15.69" fill="#568a6c"/><rect x="470" y="353.89" width="4" height="7.76" fill="#6e1a13"/><rect x="471" y="354.89" width="2" height="5.76" fill="#d9534a"/><rect x="473" y="354.35" width="1" height="7.73" fill="#568a6c"/><rect x="472" y="357.91" width="4" height="3.75" fill="#1b6a40"/><rect x="473" y="358.91" width="2" height="1.75" fill="#12b566"/><rect x="475" y="354.62" width="1" height="9.22" fill="#568a6c"/><rect x="474" y="354.76" width="4" height="4.15" fill="#1b6a40"/><rect x="475" y="355.76" width="2" height="2.15" fill="#12b566"/><rect x="477" y="350.21" width="1" height="9.24" fill="#568a6c"/><rect x="476" y="351.53" width="4" height="4.24" fill="#1b6a40"/><rect x="477" y="352.53" width="2" height="2.24" fill="#12b566"/><rect x="479" y="345.40" width="1" height="9.10" fill="#568a6c"/><rect x="478" y="346.26" width="4" height="6.27" fill="#1b6a40"/><rect x="479" y="347.26" width="2" height="4.27" fill="#12b566"/><rect x="481" y="332.53" width="1" height="16.71" fill="#568a6c"/><rect x="480" y="334.37" width="4" height="12.89" fill="#1b6a40"/><rect x="481" y="335.37" width="2" height="10.89" fill="#12b566"/><rect x="483" y="331.73" width="1" height="4.12" fill="#568a6c"/><rect x="482" y="334.03" width="4" height="2.00" fill="#1b6a40"/><rect x="485" y="317.86" width="1" height="22.61" fill="#568a6c"/><rect x="484" y="321.06" width="4" height="13.97" fill="#1b6a40"/><rect x="485" y="322.06" width="2" height="11.97" fill="#12b566"/><rect x="488" y="307.67" width="1" height="17.01" fill="#568a6c"/><rect x="487" y="308.36" width="4" height="13.70" fill="#1b6a40"/><rect x="488" y="309.36" width="2" height="11.70" fill="#12b566"/><rect x="490" y="298.91" width="1" height="12.84" fill="#568a6c"/><rect x="489" y="302.84" width="4" height="6.52" fill="#1b6a40"/><rect x="490" y="303.84" width="2" height="4.52" fill="#12b566"/><rect x="492" y="302.09" width="1" height="7.35" fill="#568a6c"/><rect x="491" y="302.84" width="4" height="5.55" fill="#6e1a13"/><rect x="492" y="303.84" width="2" height="3.55" fill="#d9534a"/><rect x="494" y="296.22" width="1" height="12.90" fill="#568a6c"/><rect x="493" y="298.63" width="4" height="9.75" fill="#1b6a40"/><rect x="494" y="299.63" width="2" height="7.75" fill="#12b566"/><rect x="496" y="293.35" width="1" height="13.68" fill="#568a6c"/><rect x="495" y="298.63" width="4" height="2.57" fill="#6e1a13"/><rect x="496" y="299.63" width="2" height="0.57" fill="#d9534a"/><rect x="498" y="296.83" width="1" height="33.16" fill="#568a6c"/><rect x="497" y="300.20" width="4" height="15.76" fill="#6e1a13"/><rect x="498" y="301.20" width="2" height="13.76" fill="#d9534a"/><rect x="500" y="311.70" width="1" height="6.44" fill="#568a6c"/><rect x="499" y="314.57" width="4" height="2.00" fill="#1b6a40"/><rect x="502" y="311.91" width="1" height="6.99" fill="#568a6c"/><rect x="501" y="314.57" width="4" height="2.00" fill="#6e1a13"/><rect x="505" y="302.26" width="1" height="19.38" fill="#568a6c"/><rect x="504" y="308.05" width="4" height="8.01" fill="#1b6a40"/><rect x="505" y="309.05" width="2" height="6.01" fill="#12b566"/><rect x="507" y="307.08" width="1" height="8.75" fill="#568a6c"/><rect x="506" y="308.05" width="4" height="2.00" fill="#6e1a13"/><rect x="509" y="301.51" width="1" height="13.08" fill="#568a6c"/><rect x="508" y="305.41" width="4" height="3.78" fill="#1b6a40"/><rect x="509" y="306.41" width="2" height="1.78" fill="#12b566"/><rect x="511" y="300.99" width="1" height="9.02" fill="#568a6c"/><rect x="510" y="305.41" width="4" height="2.28" fill="#6e1a13"/><rect x="511" y="306.41" width="2" height="0.28" fill="#d9534a"/><rect x="513" y="291.51" width="1" height="22.96" fill="#568a6c"/><rect x="512" y="296.93" width="4" height="10.76" fill="#1b6a40"/><rect x="513" y="297.93" width="2" height="8.76" fill="#12b566"/><rect x="515" y="291.55" width="1" height="12.03" fill="#568a6c"/><rect x="514" y="295.32" width="4" height="2.61" fill="#1b6a40"/><rect x="515" y="296.32" width="2" height="0.61" fill="#12b566"/><rect x="517" y="288.66" width="1" height="10.22" fill="#568a6c"/><rect x="516" y="293.06" width="4" height="3.27" fill="#1b6a40"/><rect x="517" y="294.06" width="2" height="1.27" fill="#12b566"/><rect x="519" y="289.09" width="1" height="9.06" fill="#568a6c"/><rect x="518" y="293.06" width="4" height="4.24" fill="#6e1a13"/><rect x="519" y="294.06" width="2" height="2.24" fill="#d9534a"/><rect x="522" y="293.67" width="1" height="6.61" fill="#568a6c"/><rect x="521" y="295.15" width="4" height="2.15" fill="#1b6a40"/><rect x="522" y="296.15" width="2" height="0.15" fill="#12b566"/><rect x="524" y="289.85" width="1" height="8.55" fill="#568a6c"/><rect x="523" y="290.27" width="4" height="5.88" fill="#1b6a40"/><rect x="524" y="291.27" width="2" height="3.88" fill="#12b566"/><rect x="526" y="284.07" width="1" height="11.67" fill="#568a6c"/><rect x="525" y="287.59" width="4" height="3.69" fill="#1b6a40"/><rect x="526" y="288.59" width="2" height="1.69" fill="#12b566"/><rect x="528" y="286.46" width="1" height="18.76" fill="#568a6c"/><rect x="527" y="287.59" width="4" height="10.11" fill="#6e1a13"/><rect x="528" y="288.59" width="2" height="8.11" fill="#d9534a"/><rect x="530" y="293.33" width="1" height="13.28" fill="#568a6c"/><rect x="529" y="296.70" width="4" height="7.97" fill="#6e1a13"/><rect x="530" y="297.70" width="2" height="5.97" fill="#d9534a"/><rect x="532" y="298.08" width="1" height="10.23" fill="#568a6c"/><rect x="531" y="301.44" width="4" height="3.22" fill="#1b6a40"/><rect x="532" y="302.44" width="2" height="1.22" fill="#12b566"/><rect x="534" y="298.95" width="1" height="6.29" fill="#568a6c"/><rect x="533" y="301.44" width="4" height="2.00" fill="#6e1a13"/><rect x="536" y="296.18" width="1" height="21.54" fill="#568a6c"/><rect x="535" y="301.95" width="4" height="11.82" fill="#6e1a13"/><rect x="536" y="302.95" width="2" height="9.82" fill="#d9534a"/><rect x="539" y="309.46" width="1" height="12.99" fill="#568a6c"/><rect x="538" y="312.77" width="4" height="4.82" fill="#6e1a13"/><rect x="539" y="313.77" width="2" height="2.82" fill="#d9534a"/><rect x="541" y="311.81" width="1" height="23.86" fill="#568a6c"/><rect x="540" y="316.59" width="4" height="18.59" fill="#6e1a13"/><rect x="541" y="317.59" width="2" height="16.59" fill="#d9534a"/><rect x="543" y="331.69" width="1" height="7.57" fill="#568a6c"/><rect x="542" y="334.07" width="4" height="2.00" fill="#1b6a40"/><rect x="545" y="333.43" width="1" height="14.33" fill="#568a6c"/><rect x="544" y="334.07" width="4" height="12.04" fill="#6e1a13"/><rect x="545" y="335.07" width="2" height="10.04" fill="#d9534a"/><rect x="547" y="331.29" width="1" height="15.75" fill="#568a6c"/><rect x="546" y="331.54" width="4" height="14.57" fill="#1b6a40"/><rect x="547" y="332.54" width="2" height="12.57" fill="#12b566"/><rect x="549" y="325.26" width="1" height="7.96" fill="#568a6c"/><rect x="548" y="326.54" width="4" height="6.00" fill="#1b6a40"/><rect x="549" y="327.54" width="2" height="4.00" fill="#12b566"/><rect x="551" y="325.83" width="1" height="15.91" fill="#568a6c"/><rect x="550" y="326.54" width="4" height="9.78" fill="#6e1a13"/><rect x="551" y="327.54" width="2" height="7.78" fill="#d9534a"/><rect x="553" y="333.34" width="1" height="6.45" fill="#568a6c"/><rect x="552" y="335.32" width="4" height="2.07" fill="#6e1a13"/><rect x="553" y="336.32" width="2" height="0.07" fill="#d9534a"/><rect x="556" y="331.90" width="1" height="11.32" fill="#568a6c"/><rect x="555" y="336.39" width="4" height="4.12" fill="#6e1a13"/><rect x="556" y="337.39" width="2" height="2.12" fill="#d9534a"/><rect x="558" y="335.53" width="1" height="26.22" fill="#568a6c"/><rect x="557" y="339.50" width="4" height="19.58" fill="#6e1a13"/><rect x="558" y="340.50" width="2" height="17.58" fill="#d9534a"/><rect x="560" y="356.01" width="1" height="46.30" fill="#568a6c"/><rect x="559" y="358.09" width="4" height="28.50" fill="#6e1a13"/><rect x="560" y="359.09" width="2" height="26.50" fill="#d9534a"/><rect x="562" y="384.35" width="1" height="5.37" fill="#568a6c"/><rect x="561" y="385.59" width="4" height="2.00" fill="#6e1a13"/><rect x="564" y="382.71" width="1" height="8.08" fill="#568a6c"/><rect x="563" y="382.69" width="4" height="4.57" fill="#1b6a40"/><rect x="564" y="383.69" width="2" height="2.57" fill="#12b566"/><rect x="566" y="382.63" width="1" height="11.04" fill="#568a6c"/><rect x="565" y="382.69" width="4" height="9.88" fill="#6e1a13"/><rect x="566" y="383.69" width="2" height="7.88" fill="#d9534a"/><rect x="568" y="391.52" width="1" height="6.51" fill="#568a6c"/><rect x="567" y="391.56" width="4" height="5.37" fill="#6e1a13"/><rect x="568" y="392.56" width="2" height="3.37" fill="#d9534a"/><rect x="570" y="389.17" width="1" height="12.86" fill="#568a6c"/><rect x="569" y="390.37" width="4" height="6.56" fill="#1b6a40"/><rect x="570" y="391.37" width="2" height="4.56" fill="#12b566"/><rect x="572" y="380.25" width="1" height="12.21" fill="#568a6c"/><rect x="571" y="383.01" width="4" height="8.36" fill="#1b6a40"/><rect x="572" y="384.01" width="2" height="6.36" fill="#12b566"/><rect x="575" y="374.71" width="1" height="11.29" fill="#568a6c"/><rect x="574" y="375.89" width="4" height="8.12" fill="#1b6a40"/><rect x="575" y="376.89" width="2" height="6.12" fill="#12b566"/><rect x="577" y="370.73" width="1" height="6.95" fill="#568a6c"/><rect x="576" y="371.43" width="4" height="5.46" fill="#1b6a40"/><rect x="577" y="372.43" width="2" height="3.46" fill="#12b566"/><rect x="579" y="365.48" width="1" height="8.96" fill="#568a6c"/><rect x="578" y="367.34" width="4" height="5.09" fill="#1b6a40"/><rect x="579" y="368.34" width="2" height="3.09" fill="#12b566"/><rect x="581" y="365.42" width="1" height="5.82" fill="#568a6c"/><rect x="580" y="365.95" width="4" height="2.39" fill="#1b6a40"/><rect x="581" y="366.95" width="2" height="0.39" fill="#12b566"/><rect x="583" y="365.42" width="1" height="5.44" fill="#568a6c"/><rect x="582" y="365.95" width="4" height="4.69" fill="#6e1a13"/><rect x="583" y="366.95" width="2" height="2.69" fill="#d9534a"/><rect x="585" y="369.25" width="1" height="2.64" fill="#568a6c"/><rect x="584" y="369.64" width="4" height="2.00" fill="#6e1a13"/><rect x="585" y="370.64" width="2" height="0.00" fill="#d9534a"/><rect x="587" y="370.49" width="1" height="10.94" fill="#568a6c"/><rect x="586" y="370.64" width="4" height="8.06" fill="#6e1a13"/><rect x="587" y="371.64" width="2" height="6.06" fill="#d9534a"/><rect x="589" y="364.55" width="1" height="18.23" fill="#568a6c"/><rect x="588" y="365.40" width="4" height="13.30" fill="#1b6a40"/><rect x="589" y="366.40" width="2" height="11.30" fill="#12b566"/><rect x="592" y="363.15" width="1" height="7.09" fill="#568a6c"/><rect x="591" y="365.40" width="4" height="4.57" fill="#6e1a13"/><rect x="592" y="366.40" width="2" height="2.57" fill="#d9534a"/><rect x="594" y="365.49" width="1" height="9.43" fill="#568a6c"/><rect x="593" y="368.97" width="4" height="2.00" fill="#6e1a13"/><rect x="596" y="359.70" width="1" height="15.38" fill="#568a6c"/><rect x="595" y="359.83" width="4" height="10.88" fill="#1b6a40"/><rect x="596" y="360.83" width="2" height="8.88" fill="#12b566"/><rect x="598" y="358.76" width="1" height="4.15" fill="#568a6c"/><rect x="597" y="359.83" width="4" height="2.00" fill="#6e1a13"/><rect x="600" y="356.91" width="1" height="18.10" fill="#568a6c"/><rect x="599" y="360.17" width="4" height="14.20" fill="#6e1a13"/><rect x="600" y="361.17" width="2" height="12.20" fill="#d9534a"/><rect x="602" y="372.23" width="1" height="9.91" fill="#568a6c"/><rect x="601" y="373.37" width="4" height="4.96" fill="#6e1a13"/><rect x="602" y="374.37" width="2" height="2.96" fill="#d9534a"/><rect x="604" y="373.78" width="1" height="5.95" fill="#568a6c"/><rect x="603" y="375.75" width="4" height="2.58" fill="#1b6a40"/><rect x="604" y="376.75" width="2" height="0.58" fill="#12b566"/><rect x="606" y="372.82" width="1" height="14.11" fill="#568a6c"/><rect x="605" y="375.75" width="4" height="8.31" fill="#6e1a13"/><rect x="606" y="376.75" width="2" height="6.31" fill="#d9534a"/><rect x="609" y="376.03" width="1" height="8.32" fill="#568a6c"/><rect x="608" y="377.47" width="4" height="6.59" fill="#1b6a40"/><rect x="609" y="378.47" width="2" height="4.59" fill="#12b566"/><rect x="611" y="375.99" width="1" height="5.48" fill="#568a6c"/><rect x="610" y="377.47" width="4" height="2.71" fill="#6e1a13"/><rect x="611" y="378.47" width="2" height="0.71" fill="#d9534a"/><rect x="613" y="371.37" width="1" height="9.07" fill="#568a6c"/><rect x="612" y="371.65" width="4" height="8.53" fill="#1b6a40"/><rect x="613" y="372.65" width="2" height="6.53" fill="#12b566"/><rect x="615" y="367.35" width="1" height="5.69" fill="#568a6c"/><rect x="614" y="368.65" width="4" height="3.99" fill="#1b6a40"/><rect x="615" y="369.65" width="2" height="1.99" fill="#12b566"/><rect x="617" y="367.57" width="1" height="4.63" fill="#568a6c"/><rect x="616" y="368.56" width="4" height="2.00" fill="#1b6a40"/><rect x="619" y="363.51" width="1" height="6.85" fill="#568a6c"/><rect x="618" y="364.60" width="4" height="4.96" fill="#1b6a40"/><rect x="619" y="365.60" width="2" height="2.96" fill="#12b566"/><rect x="621" y="363.17" width="1" height="26.50" fill="#568a6c"/><rect x="620" y="364.60" width="4" height="9.91" fill="#6e1a13"/><rect x="621" y="365.60" width="2" height="7.91" fill="#d9534a"/><rect x="623" y="370.24" width="1" height="6.02" fill="#568a6c"/><rect x="622" y="372.54" width="4" height="2.00" fill="#1b6a40"/><rect x="626" y="369.18" width="1" height="10.02" fill="#568a6c"/><rect x="625" y="372.54" width="4" height="2.60" fill="#6e1a13"/><rect x="626" y="373.54" width="2" height="0.60" fill="#d9534a"/><rect x="628" y="370.80" width="1" height="4.97" fill="#568a6c"/><rect x="627" y="372.89" width="4" height="2.25" fill="#1b6a40"/><rect x="628" y="373.89" width="2" height="0.25" fill="#12b566"/><rect x="630" y="372.60" width="1" height="5.02" fill="#568a6c"/><rect x="629" y="372.71" width="4" height="2.00" fill="#1b6a40"/><rect x="632" y="370.64" width="1" height="14.03" fill="#568a6c"/><rect x="631" y="372.71" width="4" height="10.00" fill="#6e1a13"/><rect x="632" y="373.71" width="2" height="8.00" fill="#d9534a"/><rect x="634" y="381.18" width="1" height="4.74" fill="#568a6c"/><rect x="633" y="381.71" width="4" height="3.61" fill="#6e1a13"/><rect x="634" y="382.71" width="2" height="1.61" fill="#d9534a"/><rect x="636" y="379.70" width="1" height="7.32" fill="#568a6c"/><rect x="635" y="381.37" width="4" height="3.95" fill="#1b6a40"/><rect x="636" y="382.37" width="2" height="1.95" fill="#12b566"/><rect x="638" y="380.17" width="1" height="9.72" fill="#568a6c"/><rect x="637" y="381.37" width="4" height="6.67" fill="#6e1a13"/><rect x="638" y="382.37" width="2" height="4.67" fill="#d9534a"/><rect x="640" y="385.03" width="1" height="3.37" fill="#568a6c"/><rect x="639" y="386.84" width="4" height="2.00" fill="#1b6a40"/><rect x="643" y="382.99" width="1" height="8.65" fill="#568a6c"/><rect x="642" y="383.27" width="4" height="4.57" fill="#1b6a40"/><rect x="643" y="384.27" width="2" height="2.57" fill="#12b566"/><rect x="645" y="370.90" width="1" height="16.97" fill="#568a6c"/><rect x="644" y="373.84" width="4" height="10.43" fill="#1b6a40"/><rect x="645" y="374.84" width="2" height="8.43" fill="#12b566"/><rect x="647" y="370.10" width="1" height="5.01" fill="#568a6c"/><rect x="646" y="370.14" width="4" height="4.70" fill="#1b6a40"/><rect x="647" y="371.14" width="2" height="2.70" fill="#12b566"/><rect x="649" y="369.74" width="1" height="8.40" fill="#568a6c"/><rect x="648" y="370.14" width="4" height="6.77" fill="#6e1a13"/><rect x="649" y="371.14" width="2" height="4.77" fill="#d9534a"/><rect x="651" y="374.57" width="1" height="12.57" fill="#568a6c"/><rect x="650" y="375.91" width="4" height="11.02" fill="#6e1a13"/><rect x="651" y="376.91" width="2" height="9.02" fill="#d9534a"/><rect x="653" y="380.04" width="1" height="7.10" fill="#568a6c"/><rect x="652" y="381.18" width="4" height="5.76" fill="#1b6a40"/><rect x="653" y="382.18" width="2" height="3.76" fill="#12b566"/><rect x="655" y="381.17" width="1" height="6.33" fill="#568a6c"/><rect x="654" y="381.18" width="4" height="4.20" fill="#6e1a13"/><rect x="655" y="382.18" width="2" height="2.20" fill="#d9534a"/><rect x="657" y="381.75" width="1" height="5.58" fill="#568a6c"/><rect x="656" y="382.89" width="4" height="2.49" fill="#1b6a40"/><rect x="657" y="383.89" width="2" height="0.49" fill="#12b566"/><rect x="659" y="381.99" width="1" height="3.21" fill="#568a6c"/><rect x="658" y="382.58" width="4" height="2.00" fill="#1b6a40"/><rect x="662" y="381.77" width="1" height="2.65" fill="#568a6c"/><rect x="661" y="381.99" width="4" height="2.00" fill="#1b6a40"/><rect x="664" y="374.64" width="1" height="11.59" fill="#568a6c"/><rect x="663" y="376.68" width="4" height="6.31" fill="#1b6a40"/><rect x="664" y="377.68" width="2" height="4.31" fill="#12b566"/><rect x="666" y="366.86" width="1" height="11.21" fill="#568a6c"/><rect x="665" y="366.95" width="4" height="10.73" fill="#1b6a40"/><rect x="666" y="367.95" width="2" height="8.73" fill="#12b566"/><rect x="668" y="356.49" width="1" height="14.02" fill="#568a6c"/><rect x="667" y="359.33" width="4" height="8.63" fill="#1b6a40"/><rect x="668" y="360.33" width="2" height="6.63" fill="#12b566"/><rect x="670" y="352.28" width="1" height="8.79" fill="#568a6c"/><rect x="669" y="355.02" width="4" height="5.31" fill="#1b6a40"/><rect x="670" y="356.02" width="2" height="3.31" fill="#12b566"/><rect x="672" y="345.19" width="1" height="11.83" fill="#568a6c"/><rect x="671" y="346.42" width="4" height="9.60" fill="#1b6a40"/><rect x="672" y="347.42" width="2" height="7.60" fill="#12b566"/><rect x="674" y="327.77" width="1" height="21.36" fill="#568a6c"/><rect x="673" y="331.42" width="4" height="16.00" fill="#1b6a40"/><rect x="674" y="332.42" width="2" height="14.00" fill="#12b566"/><rect x="676" y="310.59" width="1" height="29.03" fill="#568a6c"/><rect x="675" y="331.42" width="4" height="2.00" fill="#6e1a13"/><rect x="679" y="331.31" width="1" height="5.73" fill="#568a6c"/><rect x="678" y="332.31" width="4" height="2.00" fill="#6e1a13"/><rect x="679" y="333.31" width="2" height="0.00" fill="#d9534a"/><rect x="681" y="330.13" width="1" height="9.91" fill="#568a6c"/><rect x="680" y="333.31" width="4" height="2.00" fill="#6e1a13"/><rect x="683" y="332.02" width="1" height="6.88" fill="#568a6c"/><rect x="682" y="333.40" width="4" height="3.86" fill="#6e1a13"/><rect x="683" y="334.40" width="2" height="1.86" fill="#d9534a"/><rect x="685" y="324.96" width="1" height="17.86" fill="#568a6c"/><rect x="684" y="325.33" width="4" height="11.94" fill="#1b6a40"/><rect x="685" y="326.33" width="2" height="9.94" fill="#12b566"/><rect x="687" y="325.01" width="1" height="3.27" fill="#568a6c"/><rect x="686" y="325.33" width="4" height="2.31" fill="#6e1a13"/><rect x="687" y="326.33" width="2" height="0.31" fill="#d9534a"/><rect x="689" y="310.48" width="1" height="19.90" fill="#568a6c"/><rect x="688" y="312.96" width="4" height="14.67" fill="#1b6a40"/><rect x="689" y="313.96" width="2" height="12.67" fill="#12b566"/><rect x="691" y="303.08" width="1" height="12.57" fill="#568a6c"/><rect x="690" y="306.52" width="4" height="7.45" fill="#1b6a40"/><rect x="691" y="307.52" width="2" height="5.45" fill="#12b566"/><rect x="693" y="302.79" width="1" height="19.50" fill="#568a6c"/><rect x="692" y="306.52" width="4" height="15.10" fill="#6e1a13"/><rect x="693" y="307.52" width="2" height="13.10" fill="#d9534a"/><rect x="696" y="319.92" width="1" height="6.32" fill="#568a6c"/><rect x="695" y="320.62" width="4" height="2.00" fill="#6e1a13"/><rect x="698" y="321.03" width="1" height="3.00" fill="#568a6c"/><rect x="697" y="321.38" width="4" height="2.00" fill="#6e1a13"/><rect x="700" y="318.30" width="1" height="13.54" fill="#568a6c"/><rect x="699" y="321.51" width="4" height="6.37" fill="#6e1a13"/><rect x="700" y="322.51" width="2" height="4.37" fill="#d9534a"/><rect x="702" y="322.60" width="1" height="6.12" fill="#568a6c"/><rect x="701" y="323.52" width="4" height="4.36" fill="#1b6a40"/><rect x="702" y="324.52" width="2" height="2.36" fill="#12b566"/><rect x="704" y="316.79" width="1" height="12.23" fill="#568a6c"/><rect x="703" y="318.09" width="4" height="6.43" fill="#1b6a40"/><rect x="704" y="319.09" width="2" height="4.43" fill="#12b566"/><rect x="706" y="311.99" width="1" height="7.94" fill="#568a6c"/><rect x="705" y="313.38" width="4" height="5.70" fill="#1b6a40"/><rect x="706" y="314.38" width="2" height="3.70" fill="#12b566"/><rect x="708" y="309.99" width="1" height="9.70" fill="#568a6c"/><rect x="707" y="313.38" width="4" height="3.01" fill="#6e1a13"/><rect x="708" y="314.38" width="2" height="1.01" fill="#d9534a"/><rect x="710" y="302.47" width="1" height="20.89" fill="#568a6c"/><rect x="709" y="307.72" width="4" height="8.68" fill="#1b6a40"/><rect x="710" y="308.72" width="2" height="6.68" fill="#12b566"/><rect x="713" y="299.97" width="1" height="11.31" fill="#568a6c"/><rect x="712" y="305.26" width="4" height="3.46" fill="#1b6a40"/><rect x="713" y="306.26" width="2" height="1.46" fill="#12b566"/><rect x="715" y="289.86" width="1" height="18.28" fill="#568a6c"/><rect x="714" y="294.54" width="4" height="11.72" fill="#1b6a40"/><rect x="715" y="295.54" width="2" height="9.72" fill="#12b566"/><rect x="717" y="293.17" width="1" height="4.94" fill="#568a6c"/><rect x="716" y="294.54" width="4" height="2.00" fill="#6e1a13"/><rect x="719" y="286.41" width="1" height="16.36" fill="#568a6c"/><rect x="718" y="292.34" width="4" height="3.29" fill="#1b6a40"/><rect x="719" y="293.34" width="2" height="1.29" fill="#12b566"/><rect x="721" y="279.65" width="1" height="16.13" fill="#568a6c"/><rect x="720" y="280.82" width="4" height="12.52" fill="#1b6a40"/><rect x="721" y="281.82" width="2" height="10.52" fill="#12b566"/><rect x="723" y="274.81" width="1" height="9.53" fill="#568a6c"/><rect x="722" y="276.63" width="4" height="5.19" fill="#1b6a40"/><rect x="723" y="277.63" width="2" height="3.19" fill="#12b566"/><rect x="725" y="271.38" width="1" height="9.00" fill="#568a6c"/><rect x="724" y="273.42" width="4" height="4.21" fill="#1b6a40"/><rect x="725" y="274.42" width="2" height="2.21" fill="#12b566"/><rect x="727" y="261.65" width="1" height="17.28" fill="#568a6c"/><rect x="726" y="262.73" width="4" height="11.69" fill="#1b6a40"/><rect x="727" y="263.73" width="2" height="9.69" fill="#12b566"/><rect x="730" y="259.24" width="1" height="12.05" fill="#568a6c"/><rect x="729" y="262.73" width="4" height="4.35" fill="#6e1a13"/><rect x="730" y="263.73" width="2" height="2.35" fill="#d9534a"/><rect x="732" y="256.56" width="1" height="15.03" fill="#568a6c"/><rect x="731" y="262.50" width="4" height="4.58" fill="#1b6a40"/><rect x="732" y="263.50" width="2" height="2.58" fill="#12b566"/><rect x="734" y="261.62" width="1" height="25.34" fill="#568a6c"/><rect x="733" y="262.50" width="4" height="18.37" fill="#6e1a13"/><rect x="734" y="263.50" width="2" height="16.37" fill="#d9534a"/><rect x="736" y="274.54" width="1" height="23.47" fill="#568a6c"/><rect x="735" y="279.88" width="4" height="16.40" fill="#6e1a13"/><rect x="736" y="280.88" width="2" height="14.40" fill="#d9534a"/><rect x="738" y="277.41" width="1" height="22.58" fill="#568a6c"/><rect x="737" y="277.90" width="4" height="18.37" fill="#1b6a40"/><rect x="738" y="278.90" width="2" height="16.37" fill="#12b566"/><rect x="740" y="267.98" width="1" height="15.27" fill="#568a6c"/><rect x="739" y="271.09" width="4" height="7.81" fill="#1b6a40"/><rect x="740" y="272.09" width="2" height="5.81" fill="#12b566"/><rect x="742" y="264.34" width="1" height="20.06" fill="#568a6c"/><rect x="741" y="271.09" width="4" height="8.31" fill="#6e1a13"/><rect x="742" y="272.09" width="2" height="6.31" fill="#d9534a"/><rect x="744" y="273.69" width="1" height="22.10" fill="#568a6c"/><rect x="743" y="278.40" width="4" height="16.54" fill="#6e1a13"/><rect x="744" y="279.40" width="2" height="14.54" fill="#d9534a"/><rect x="746" y="291.49" width="1" height="24.09" fill="#568a6c"/><rect x="745" y="293.94" width="4" height="16.28" fill="#6e1a13"/><rect x="746" y="294.94" width="2" height="14.28" fill="#d9534a"/><rect x="749" y="301.25" width="1" height="9.81" fill="#568a6c"/><rect x="748" y="301.72" width="4" height="8.50" fill="#1b6a40"/><rect x="749" y="302.72" width="2" height="6.50" fill="#12b566"/><rect x="751" y="297.80" width="1" height="12.62" fill="#568a6c"/><rect x="750" y="301.72" width="4" height="2.00" fill="#6e1a13"/><rect x="753" y="296.34" width="1" height="11.65" fill="#568a6c"/><rect x="752" y="296.84" width="4" height="6.83" fill="#1b6a40"/><rect x="753" y="297.84" width="2" height="4.83" fill="#12b566"/><rect x="755" y="296.30" width="1" height="25.35" fill="#568a6c"/><rect x="754" y="296.84" width="4" height="18.00" fill="#6e1a13"/><rect x="755" y="297.84" width="2" height="16.00" fill="#d9534a"/><rect x="757" y="300.43" width="1" height="15.86" fill="#568a6c"/><rect x="756" y="303.67" width="4" height="11.18" fill="#1b6a40"/><rect x="757" y="304.67" width="2" height="9.18" fill="#12b566"/><rect x="759" y="299.52" width="1" height="10.60" fill="#568a6c"/><rect x="758" y="300.41" width="4" height="4.26" fill="#1b6a40"/><rect x="759" y="301.41" width="2" height="2.26" fill="#12b566"/><rect x="761" y="298.04" width="1" height="13.14" fill="#568a6c"/><rect x="760" y="300.41" width="4" height="5.48" fill="#6e1a13"/><rect x="761" y="301.41" width="2" height="3.48" fill="#d9534a"/><rect x="763" y="293.13" width="1" height="14.83" fill="#568a6c"/><rect x="762" y="294.89" width="4" height="10.99" fill="#1b6a40"/><rect x="763" y="295.89" width="2" height="8.99" fill="#12b566"/><rect x="766" y="279.35" width="1" height="21.54" fill="#568a6c"/><rect x="765" y="285.84" width="4" height="10.05" fill="#1b6a40"/><rect x="766" y="286.84" width="2" height="8.05" fill="#12b566"/><rect x="768" y="274.95" width="1" height="15.81" fill="#568a6c"/><rect x="767" y="277.58" width="4" height="9.26" fill="#1b6a40"/><rect x="768" y="278.58" width="2" height="7.26" fill="#12b566"/><rect x="770" y="273.17" width="1" height="11.74" fill="#568a6c"/><rect x="769" y="277.58" width="4" height="2.00" fill="#6e1a13"/><rect x="772" y="271.27" width="1" height="10.91" fill="#568a6c"/><rect x="771" y="277.53" width="4" height="2.00" fill="#1b6a40"/><rect x="774" y="272.21" width="1" height="13.59" fill="#568a6c"/><rect x="773" y="277.53" width="4" height="3.15" fill="#6e1a13"/><rect x="774" y="278.53" width="2" height="1.15" fill="#d9534a"/><rect x="776" y="271.05" width="1" height="16.36" fill="#568a6c"/><rect x="775" y="276.73" width="4" height="3.95" fill="#1b6a40"/><rect x="776" y="277.73" width="2" height="1.95" fill="#12b566"/><rect x="778" y="266.45" width="1" height="19.19" fill="#568a6c"/><rect x="777" y="272.08" width="4" height="5.65" fill="#1b6a40"/><rect x="778" y="273.08" width="2" height="3.65" fill="#12b566"/><rect x="780" y="261.12" width="1" height="17.12" fill="#568a6c"/><rect x="779" y="268.16" width="4" height="4.92" fill="#1b6a40"/><rect x="780" y="269.16" width="2" height="2.92" fill="#12b566"/><rect x="783" y="265.17" width="1" height="10.99" fill="#568a6c"/><rect x="782" y="268.16" width="4" height="2.11" fill="#6e1a13"/><rect x="783" y="269.16" width="2" height="0.11" fill="#d9534a"/><rect x="785" y="263.95" width="1" height="12.21" fill="#568a6c"/><rect x="784" y="269.27" width="4" height="3.86" fill="#6e1a13"/><rect x="785" y="270.27" width="2" height="1.86" fill="#d9534a"/><rect x="787" y="262.53" width="1" height="11.96" fill="#568a6c"/><rect x="786" y="264.85" width="4" height="8.28" fill="#1b6a40"/><rect x="787" y="265.85" width="2" height="6.28" fill="#12b566"/><rect x="789" y="242.50" width="1" height="33.77" fill="#568a6c"/><rect x="788" y="247.88" width="4" height="17.97" fill="#1b6a40"/><rect x="789" y="248.88" width="2" height="15.97" fill="#12b566"/><rect x="791" y="238.25" width="1" height="12.32" fill="#568a6c"/><rect x="790" y="240.57" width="4" height="8.31" fill="#1b6a40"/><rect x="791" y="241.57" width="2" height="6.31" fill="#12b566"/><rect x="793" y="238.87" width="1" height="6.33" fill="#568a6c"/><rect x="792" y="240.16" width="4" height="2.00" fill="#1b6a40"/><rect x="795" y="226.68" width="1" height="25.11" fill="#568a6c"/><rect x="794" y="236.75" width="4" height="4.41" fill="#1b6a40"/><rect x="795" y="237.75" width="2" height="2.41" fill="#12b566"/><rect x="797" y="236.03" width="1" height="14.80" fill="#568a6c"/><rect x="796" y="236.75" width="4" height="11.56" fill="#6e1a13"/><rect x="797" y="237.75" width="2" height="9.56" fill="#d9534a"/><rect x="800" y="246.47" width="1" height="13.78" fill="#568a6c"/><rect x="799" y="247.30" width="4" height="7.29" fill="#6e1a13"/><rect x="800" y="248.30" width="2" height="5.29" fill="#d9534a"/><rect x="802" y="237.33" width="1" height="18.99" fill="#568a6c"/><rect x="801" y="243.20" width="4" height="11.39" fill="#1b6a40"/><rect x="802" y="244.20" width="2" height="9.39" fill="#12b566"/><rect x="804" y="242.47" width="1" height="8.30" fill="#568a6c"/><rect x="803" y="243.20" width="4" height="3.73" fill="#6e1a13"/><rect x="804" y="244.20" width="2" height="1.73" fill="#d9534a"/><rect x="806" y="240.94" width="1" height="15.33" fill="#568a6c"/><rect x="805" y="244.87" width="4" height="2.06" fill="#1b6a40"/><rect x="806" y="245.87" width="2" height="0.06" fill="#12b566"/><rect x="808" y="241.63" width="1" height="5.64" fill="#568a6c"/><rect x="807" y="242.32" width="4" height="3.55" fill="#1b6a40"/><rect x="808" y="243.32" width="2" height="1.55" fill="#12b566"/><rect x="810" y="237.93" width="1" height="7.39" fill="#568a6c"/><rect x="809" y="239.13" width="4" height="4.19" fill="#1b6a40"/><rect x="810" y="240.13" width="2" height="2.19" fill="#12b566"/><rect x="812" y="224.70" width="1" height="22.76" fill="#568a6c"/><rect x="811" y="226.27" width="4" height="13.86" fill="#1b6a40"/><rect x="812" y="227.27" width="2" height="11.86" fill="#12b566"/><rect x="814" y="223.41" width="1" height="28.35" fill="#568a6c"/><rect x="813" y="226.27" width="4" height="23.55" fill="#6e1a13"/><rect x="814" y="227.27" width="2" height="21.55" fill="#d9534a"/><rect x="817" y="243.23" width="1" height="8.95" fill="#568a6c"/><rect x="816" y="244.40" width="4" height="5.42" fill="#1b6a40"/><rect x="817" y="245.40" width="2" height="3.42" fill="#12b566"/><rect x="819" y="243.46" width="1" height="36.33" fill="#568a6c"/><rect x="818" y="244.40" width="4" height="24.94" fill="#6e1a13"/><rect x="819" y="245.40" width="2" height="22.94" fill="#d9534a"/><rect x="821" y="258.89" width="1" height="14.86" fill="#568a6c"/><rect x="820" y="260.58" width="4" height="8.77" fill="#1b6a40"/><rect x="821" y="261.58" width="2" height="6.77" fill="#12b566"/><rect x="823" y="248.31" width="1" height="17.14" fill="#568a6c"/><rect x="822" y="254.30" width="4" height="7.27" fill="#1b6a40"/><rect x="823" y="255.30" width="2" height="5.27" fill="#12b566"/><rect x="825" y="252.86" width="1" height="12.84" fill="#568a6c"/><rect x="824" y="254.30" width="4" height="2.83" fill="#6e1a13"/><rect x="825" y="255.30" width="2" height="0.83" fill="#d9534a"/><rect x="827" y="237.98" width="1" height="21.97" fill="#568a6c"/><rect x="826" y="245.35" width="4" height="11.79" fill="#1b6a40"/><rect x="827" y="246.35" width="2" height="9.79" fill="#12b566"/><rect x="829" y="242.05" width="1" height="30.53" fill="#568a6c"/><rect x="828" y="245.35" width="4" height="17.99" fill="#6e1a13"/><rect x="829" y="246.35" width="2" height="15.99" fill="#d9534a"/><rect x="831" y="252.52" width="1" height="12.67" fill="#568a6c"/><rect x="830" y="255.42" width="4" height="7.92" fill="#1b6a40"/><rect x="831" y="256.42" width="2" height="5.92" fill="#12b566"/><rect x="833" y="252.23" width="1" height="13.73" fill="#568a6c"/><rect x="832" y="252.90" width="4" height="3.52" fill="#1b6a40"/><rect x="833" y="253.90" width="2" height="1.52" fill="#12b566"/><rect x="836" y="247.28" width="1" height="17.93" fill="#568a6c"/><rect x="835" y="252.90" width="4" height="9.38" fill="#6e1a13"/><rect x="836" y="253.90" width="2" height="7.38" fill="#d9534a"/><rect x="838" y="247.16" width="1" height="19.43" fill="#568a6c"/><rect x="837" y="250.50" width="4" height="11.78" fill="#1b6a40"/><rect x="838" y="251.50" width="2" height="9.78" fill="#12b566"/><rect x="840" y="236.81" width="1" height="25.55" fill="#568a6c"/><rect x="839" y="238.50" width="4" height="13.00" fill="#1b6a40"/><rect x="840" y="239.50" width="2" height="11.00" fill="#12b566"/><rect x="842" y="229.89" width="1" height="11.78" fill="#568a6c"/><rect x="841" y="234.74" width="4" height="4.76" fill="#1b6a40"/><rect x="842" y="235.74" width="2" height="2.76" fill="#12b566"/><rect x="844" y="230.30" width="1" height="9.71" fill="#568a6c"/><rect x="843" y="231.02" width="4" height="4.72" fill="#1b6a40"/><rect x="844" y="232.02" width="2" height="2.72" fill="#12b566"/><rect x="846" y="228.67" width="1" height="16.09" fill="#568a6c"/><rect x="845" y="231.02" width="4" height="5.63" fill="#6e1a13"/><rect x="846" y="232.02" width="2" height="3.63" fill="#d9534a"/><rect x="848" y="230.77" width="1" height="32.11" fill="#568a6c"/><rect x="847" y="235.65" width="4" height="22.14" fill="#6e1a13"/><rect x="848" y="236.65" width="2" height="20.14" fill="#d9534a"/><rect x="850" y="255.97" width="1" height="50.36" fill="#568a6c"/><rect x="849" y="256.78" width="4" height="23.82" fill="#6e1a13"/><rect x="850" y="257.78" width="2" height="21.82" fill="#d9534a"/><rect x="853" y="264.83" width="1" height="17.72" fill="#568a6c"/><rect x="852" y="266.51" width="4" height="14.09" fill="#1b6a40"/><rect x="853" y="267.51" width="2" height="12.09" fill="#12b566"/><rect x="855" y="242.54" width="1" height="29.31" fill="#568a6c"/><rect x="854" y="249.25" width="4" height="18.26" fill="#1b6a40"/><rect x="855" y="250.25" width="2" height="16.26" fill="#12b566"/><rect x="857" y="240.63" width="1" height="20.21" fill="#568a6c"/><rect x="856" y="245.05" width="4" height="5.20" fill="#1b6a40"/><rect x="857" y="246.05" width="2" height="3.20" fill="#12b566"/><rect x="859" y="243.52" width="1" height="12.94" fill="#568a6c"/><rect x="858" y="245.05" width="4" height="6.92" fill="#6e1a13"/><rect x="859" y="246.05" width="2" height="4.92" fill="#d9534a"/><rect x="861" y="235.24" width="1" height="24.46" fill="#568a6c"/><rect x="860" y="236.31" width="4" height="15.66" fill="#1b6a40"/><rect x="861" y="237.31" width="2" height="13.66" fill="#12b566"/><rect x="863" y="235.17" width="1" height="10.60" fill="#568a6c"/><rect x="862" y="235.85" width="4" height="2.00" fill="#1b6a40"/><rect x="865" y="229.05" width="1" height="18.32" fill="#568a6c"/><rect x="864" y="235.85" width="4" height="3.13" fill="#6e1a13"/><rect x="865" y="236.85" width="2" height="1.13" fill="#d9534a"/><rect x="867" y="201.53" width="1" height="40.26" fill="#568a6c"/><rect x="866" y="202.55" width="4" height="36.43" fill="#1b6a40"/><rect x="867" y="203.55" width="2" height="34.43" fill="#12b566"/><rect x="870" y="185.68" width="1" height="19.62" fill="#568a6c"/><rect x="869" y="192.20" width="4" height="11.35" fill="#1b6a40"/><rect x="870" y="193.20" width="2" height="9.35" fill="#12b566"/><rect x="872" y="186.06" width="1" height="12.17" fill="#568a6c"/><rect x="871" y="189.95" width="4" height="3.24" fill="#1b6a40"/><rect x="872" y="190.95" width="2" height="1.24" fill="#12b566"/><rect x="874" y="159.18" width="1" height="38.66" fill="#568a6c"/><rect x="873" y="176.60" width="4" height="14.36" fill="#1b6a40"/><rect x="874" y="177.60" width="2" height="12.36" fill="#12b566"/><rect x="876" y="165.47" width="1" height="15.59" fill="#568a6c"/><rect x="875" y="174.42" width="4" height="3.18" fill="#1b6a40"/><rect x="876" y="175.42" width="2" height="1.18" fill="#12b566"/><rect x="878" y="166.56" width="1" height="17.23" fill="#568a6c"/><rect x="877" y="174.42" width="4" height="4.75" fill="#6e1a13"/><rect x="878" y="175.42" width="2" height="2.75" fill="#d9534a"/><rect x="880" y="167.95" width="1" height="13.05" fill="#568a6c"/><rect x="879" y="177.69" width="4" height="2.00" fill="#1b6a40"/><rect x="882" y="169.31" width="1" height="12.64" fill="#568a6c"/><rect x="881" y="177.69" width="4" height="2.00" fill="#6e1a13"/><rect x="884" y="173.90" width="1" height="26.59" fill="#568a6c"/><rect x="883" y="178.38" width="4" height="16.46" fill="#6e1a13"/><rect x="884" y="179.38" width="2" height="14.46" fill="#d9534a"/><rect x="887" y="184.13" width="1" height="13.59" fill="#568a6c"/><rect x="886" y="185.58" width="4" height="9.26" fill="#1b6a40"/><rect x="887" y="186.58" width="2" height="7.26" fill="#12b566"/><rect x="889" y="158.35" width="1" height="31.79" fill="#568a6c"/><rect x="888" y="171.61" width="4" height="14.97" fill="#1b6a40"/><rect x="889" y="172.61" width="2" height="12.97" fill="#12b566"/><rect x="891" y="170.46" width="1" height="11.32" fill="#568a6c"/><rect x="890" y="171.61" width="4" height="6.74" fill="#6e1a13"/><rect x="891" y="172.61" width="2" height="4.74" fill="#d9534a"/><rect x="893" y="173.55" width="1" height="24.27" fill="#568a6c"/><rect x="892" y="177.35" width="4" height="11.98" fill="#6e1a13"/><rect x="893" y="178.35" width="2" height="9.98" fill="#d9534a"/><rect x="895" y="175.45" width="1" height="22.24" fill="#568a6c"/><rect x="894" y="178.38" width="4" height="10.94" fill="#1b6a40"/><rect x="895" y="179.38" width="2" height="8.94" fill="#12b566"/><rect x="897" y="177.24" width="1" height="24.55" fill="#568a6c"/><rect x="896" y="178.38" width="4" height="19.35" fill="#6e1a13"/><rect x="897" y="179.38" width="2" height="17.35" fill="#d9534a"/><rect x="899" y="193.18" width="1" height="21.64" fill="#568a6c"/><rect x="898" y="196.73" width="4" height="5.87" fill="#6e1a13"/><rect x="899" y="197.73" width="2" height="3.87" fill="#d9534a"/><rect x="901" y="180.22" width="1" height="40.80" fill="#568a6c"/><rect x="900" y="188.33" width="4" height="14.26" fill="#1b6a40"/><rect x="901" y="189.33" width="2" height="12.26" fill="#12b566"/><rect x="904" y="187.45" width="1" height="15.71" fill="#568a6c"/><rect x="903" y="188.33" width="4" height="10.97" fill="#6e1a13"/><rect x="904" y="189.33" width="2" height="8.97" fill="#d9534a"/><rect x="906" y="187.49" width="1" height="14.46" fill="#568a6c"/><rect x="905" y="193.88" width="4" height="5.43" fill="#1b6a40"/><rect x="906" y="194.88" width="2" height="3.43" fill="#12b566"/><rect x="908" y="189.35" width="1" height="23.07" fill="#568a6c"/><rect x="907" y="193.88" width="4" height="10.09" fill="#6e1a13"/><rect x="908" y="194.88" width="2" height="8.09" fill="#d9534a"/><rect x="910" y="187.60" width="1" height="29.68" fill="#568a6c"/><rect x="909" y="188.53" width="4" height="15.44" fill="#1b6a40"/><rect x="910" y="189.53" width="2" height="13.44" fill="#12b566"/><rect x="912" y="177.77" width="1" height="14.24" fill="#568a6c"/><rect x="911" y="185.56" width="4" height="3.97" fill="#1b6a40"/><rect x="912" y="186.56" width="2" height="1.97" fill="#12b566"/><rect x="914" y="180.56" width="1" height="30.99" fill="#568a6c"/><rect x="913" y="185.56" width="4" height="23.09" fill="#6e1a13"/><rect x="914" y="186.56" width="2" height="21.09" fill="#d9534a"/><rect x="916" y="187.81" width="1" height="26.74" fill="#568a6c"/><rect x="915" y="190.73" width="4" height="17.91" fill="#1b6a40"/><rect x="916" y="191.73" width="2" height="15.91" fill="#12b566"/><rect x="918" y="184.48" width="1" height="10.88" fill="#568a6c"/><rect x="917" y="186.82" width="4" height="4.92" fill="#1b6a40"/><rect x="918" y="187.82" width="2" height="2.92" fill="#12b566"/><rect x="920" y="183.95" width="1" height="30.32" fill="#568a6c"/><rect x="919" y="186.82" width="4" height="20.21" fill="#6e1a13"/><rect x="920" y="187.82" width="2" height="18.21" fill="#d9534a"/><rect x="923" y="191.42" width="1" height="17.96" fill="#568a6c"/><rect x="922" y="193.40" width="4" height="13.63" fill="#1b6a40"/><rect x="923" y="194.40" width="2" height="11.63" fill="#12b566"/><rect x="925" y="185.47" width="1" height="12.39" fill="#568a6c"/><rect x="924" y="192.18" width="4" height="2.22" fill="#1b6a40"/><rect x="925" y="193.18" width="2" height="0.22" fill="#12b566"/><rect x="927" y="176.22" width="1" height="23.29" fill="#568a6c"/><rect x="926" y="186.08" width="4" height="7.10" fill="#1b6a40"/><rect x="927" y="187.08" width="2" height="5.10" fill="#12b566"/><rect x="929" y="170.75" width="1" height="20.02" fill="#568a6c"/><rect x="928" y="177.73" width="4" height="9.35" fill="#1b6a40"/><rect x="929" y="178.73" width="2" height="7.35" fill="#12b566"/><rect x="931" y="147.87" width="1" height="32.86" fill="#568a6c"/><rect x="930" y="156.90" width="4" height="21.83" fill="#1b6a40"/><rect x="931" y="157.90" width="2" height="19.83" fill="#12b566"/><rect x="933" y="131.61" width="1" height="28.50" fill="#568a6c"/><rect x="932" y="133.31" width="4" height="24.59" fill="#1b6a40"/><rect x="933" y="134.31" width="2" height="22.59" fill="#12b566"/><rect x="935" y="125.91" width="1" height="18.68" fill="#568a6c"/><rect x="934" y="133.31" width="4" height="2.00" fill="#6e1a13"/><rect x="937" y="131.58" width="1" height="13.68" fill="#568a6c"/><rect x="936" y="133.49" width="4" height="6.67" fill="#6e1a13"/><rect x="937" y="134.49" width="2" height="4.67" fill="#d9534a"/><rect x="940" y="129.67" width="1" height="26.01" fill="#568a6c"/><rect x="939" y="139.16" width="4" height="8.80" fill="#6e1a13"/><rect x="940" y="140.16" width="2" height="6.80" fill="#d9534a"/><rect x="942" y="145.65" width="1" height="15.50" fill="#568a6c"/><rect x="941" y="146.96" width="4" height="11.24" fill="#6e1a13"/><rect x="942" y="147.96" width="2" height="9.24" fill="#d9534a"/><rect x="944" y="128.44" width="1" height="32.17" fill="#568a6c"/><rect x="943" y="130.26" width="4" height="27.94" fill="#1b6a40"/><rect x="944" y="131.26" width="2" height="25.94" fill="#12b566"/><rect x="946" y="126.28" width="1" height="7.34" fill="#568a6c"/><rect x="945" y="130.26" width="4" height="2.00" fill="#6e1a13"/><rect x="948" y="89.12" width="1" height="48.48" fill="#568a6c"/><rect x="947" y="101.56" width="4" height="29.94" fill="#1b6a40"/><rect x="948" y="102.56" width="2" height="27.94" fill="#12b566"/><rect x="950" y="65.87" width="1" height="47.40" fill="#568a6c"/><rect x="949" y="72.05" width="4" height="30.51" fill="#1b6a40"/><rect x="950" y="73.05" width="2" height="28.51" fill="#12b566"/><rect x="952" y="52.86" width="1" height="35.27" fill="#568a6c"/><rect x="951" y="59.72" width="4" height="13.33" fill="#1b6a40"/><rect x="952" y="60.72" width="2" height="11.33" fill="#12b566"/><rect x="954" y="55.33" width="1" height="30.59" fill="#568a6c"/><rect x="953" y="59.72" width="4" height="21.12" fill="#6e1a13"/><rect x="954" y="60.72" width="2" height="19.12" fill="#d9534a"/><rect x="957" y="74.28" width="1" height="8.84" fill="#568a6c"/><rect x="956" y="79.00" width="4" height="2.00" fill="#1b6a40"/><rect x="959" y="63.05" width="1" height="28.91" fill="#568a6c"/><rect x="958" y="67.77" width="4" height="12.22" fill="#1b6a40"/><rect x="959" y="68.77" width="2" height="10.22" fill="#12b566"/><rect x="961" y="43.70" width="1" height="43.84" fill="#568a6c"/><rect x="960" y="67.77" width="4" height="5.93" fill="#6e1a13"/><rect x="961" y="68.77" width="2" height="3.93" fill="#d9534a"/><rect x="963" y="77.35" width="1" height="84.81" fill="#568a6c"/><rect x="962" y="76.85" width="4" height="79.10" fill="#6e1a13"/><rect x="963" y="77.85" width="2" height="77.10" fill="#d9534a"/></g>
<line x1="0" y1="155.5" x2="975" y2="155.5" stroke="#5f82ea" stroke-width="1" stroke-dasharray="2,1" stroke-dashoffset="-1.4"/>
<g><rect x="-0.11" y="550.5" width="1.9" height="1" fill="#ffb0a8"/><rect x="2.01" y="550.5" width="1.9" height="1" fill="#86dfb4"/><rect x="4.14" y="550.5" width="1.9" height="1" fill="#86dfb4"/><rect x="6.26" y="550.5" width="1.9" height="1" fill="#86dfb4"/><rect x="8.38" y="550.5" width="1.9" height="1" fill="#86dfb4"/><rect x="10.50" y="550.5" width="1.9" height="1" fill="#86dfb4"/><rect x="12.62" y="550.5" width="1.9" height="1" fill="#86dfb4"/><rect x="14.75" y="550.5" width="1.9" height="1" fill="#86dfb4"/><rect x="16.87" y="550.5" width="1.9" height="1" fill="#ffb0a8"/><rect x="18.99" y="550.5" width="1.9" height="1" fill="#86dfb4"/><rect x="21.11" y="550.5" width="1.9" height="1" fill="#86dfb4"/><rect x="23.23" y="550.5" width="1.9" height="1" fill="#ffb0a8"/><rect x="25.36" y="550.5" width="1.9" height="1" fill="#ffb0a8"/><rect x="27.48" y="550.5" width="1.9" height="1" fill="#ffb0a8"/><rect x="29.60" y="550.5" width="1.9" height="1" fill="#ffb0a8"/><rect x="31.72" y="550.5" width="1.9" height="1" fill="#86dfb4"/><rect x="33.84" y="550.5" width="1.9" height="1" fill="#86dfb4"/><rect x="35.97" y="550.5" width="1.9" height="1" fill="#86dfb4"/><rect x="38.09" y="550.5" width="1.9" height="1" fill="#86dfb4"/><rect x="40.21" y="550.5" width="1.9" height="1" fill="#86dfb4"/><rect x="42.33" y="550.5" width="1.9" height="1" fill="#86dfb4"/><rect x="44.45" y="550.5" width="1.9" height="1" fill="#86dfb4"/><rect x="46.58" y="550.5" width="1.9" height="1" fill="#ffb0a8"/><rect x="48.70" y="550.5" width="1.9" height="1" fill="#86dfb4"/><rect x="50.82" y="550.5" width="1.9" height="1" fill="#86dfb4"/><rect x="52.94" y="550.5" width="1.9" height="1" fill="#86dfb4"/><rect x="55.06" y="550.5" width="1.9" height="1" fill="#86dfb4"/><rect x="57.19" y="550.5" width="1.9" height="1" fill="#86dfb4"/><rect x="59.31" y="550.5" width="1.9" height="1" fill="#86dfb4"/><rect x="61.43" y="550.5" width="1.9" height="1" fill="#86dfb4"/><rect x="63.55" y="550.5" width="1.9" height="1" fill="#86dfb4"/><rect x="65.67" y="550.5" width="1.9" height="1" fill="#86dfb4"/><rect x="67.80" y="550.5" width="1.9" height="1" fill="#ffb0a8"/><rect x="69.92" y="550.5" width="1.9" height="1" fill="#86dfb4"/><rect x="72.04" y="550.5" width="1.9" height="1" fill="#ffb0a8"/><rect x="74.16" y="550.5" width="1.9" height="1" fill="#86dfb4"/><rect x="76.28" y="550.5" width="1.9" height="1" fill="#ffb0a8"/><rect x="78.41" y="550.5" width="1.9" height="1" fill="#86dfb4"/><rect x="80.53" y="550.5" width="1.9" height="1" fill="#86dfb4"/><rect x="82.65" y="550.5" width="1.9" height="1" fill="#ffb0a8"/><rect x="84.77" y="550.5" width="1.9" height="1" fill="#ffb0a8"/><rect x="86.89" y="550.5" width="1.9" height="1" fill="#ffb0a8"/><rect x="89.02" y="550.5" width="1.9" height="1" fill="#ffb0a8"/><rect x="91.14" y="550.5" width="1.9" height="1" fill="#86dfb4"/><rect x="93.26" y="550.5" width="1.9" height="1" fill="#ffb0a8"/><rect x="95.38" y="550.5" width="1.9" height="1" fill="#ffb0a8"/><rect x="97.50" y="550.5" width="1.9" height="1" fill="#ffb0a8"/><rect x="99.63" y="550.5" width="1.9" height="1" fill="#ffb0a8"/><rect x="101.75" y="550.5" width="1.9" height="1" fill="#86dfb4"/><rect x="103.87" y="550.5" width="1.9" height="1" fill="#ffb0a8"/><rect x="105.99" y="550.5" width="1.9" height="1" fill="#86dfb4"/><rect x="108.11" y="550.5" width="1.9" height="1" fill="#ffb0a8"/><rect x="110.24" y="550.5" width="1.9" height="1" fill="#86dfb4"/><rect x="112.36" y="550.5" width="1.9" height="1" fill="#ffb0a8"/><rect x="114.48" y="550.5" width="1.9" height="1" fill="#ffb0a8"/><rect x="116.60" y="550.5" width="1.9" height="1" fill="#ffb0a8"/><rect x="118.72" y="550.5" width="1.9" height="1" fill="#ffb0a8"/><rect x="120.85" y="550.5" width="1.9" height="1" fill="#86dfb4"/><rect x="122.97" y="550.5" width="1.9" height="1" fill="#ffb0a8"/><rect x="125.09" y="550.5" width="1.9" height="1" fill="#86dfb4"/><rect x="127.21" y="550.5" width="1.9" height="1" fill="#86dfb4"/><rect x="129.33" y="550.5" width="1.9" height="1" fill="#ffb0a8"/><rect x="131.46" y="550.5" width="1.9" height="1" fill="#86dfb4"/><rect x="133.58" y="550.5" width="1.9" height="1" fill="#ffb0a8"/><rect x="135.70" y="550.5" width="1.9" height="1" fill="#ffb0a8"/><rect x="137.82" y="550.5" width="1.9" height="1" fill="#ffb0a8"/><rect x="139.94" y="550.5" width="1.9" height="1" fill="#ffb0a8"/><rect x="142.07" y="550.5" width="1.9" height="1" fill="#86dfb4"/><rect x="144.19" y="550.5" width="1.9" height="1" fill="#ffb0a8"/><rect x="146.31" y="550.5" width="1.9" height="1" fill="#ffb0a8"/><rect x="148.43" y="550.5" width="1.9" height="1" fill="#86dfb4"/><rect x="150.55" y="550.5" width="1.9" height="1" fill="#ffb0a8"/><rect x="152.68" y="550.5" width="1.9" height="1" fill="#ffb0a8"/><rect x="154.80" y="550.5" width="1.9" height="1" fill="#86dfb4"/><rect x="156.92" y="550.5" width="1.9" height="1" fill="#ffb0a8"/><rect x="159.04" y="550.5" width="1.9" height="1" fill="#86dfb4"/><rect x="161.16" y="550.5" width="1.9" height="1" fill="#ffb0a8"/><rect x="163.29" y="550.5" width="1.9" height="1" fill="#86dfb4"/><rect x="165.41" y="550.5" width="1.9" height="1" fill="#86dfb4"/><rect x="167.53" y="550.5" width="1.9" height="1" fill="#ffb0a8"/><rect x="169.65" y="550.5" width="1.9" height="1" fill="#ffb0a8"/><rect x="171.77" y="550.5" width="1.9" height="1" fill="#86dfb4"/><rect x="173.90" y="550.5" width="1.9" height="1" fill="#86dfb4"/><rect x="176.02" y="550.5" width="1.9" height="1" fill="#ffb0a8"/><rect x="178.14" y="550.5" width="1.9" height="1" fill="#ffb0a8"/><rect x="180.26" y="550.5" width="1.9" height="1" fill="#ffb0a8"/><rect x="182.38" y="550.5" width="1.9" height="1" fill="#86dfb4"/><rect x="184.51" y="550.5" width="1.9" height="1" fill="#86dfb4"/><rect x="186.63" y="550.5" width="1.9" height="1" fill="#ffb0a8"/><rect x="188.75" y="550.5" width="1.9" height="1" fill="#ffb0a8"/><rect x="190.87" y="550.5" width="1.9" height="1" fill="#86dfb4"/><rect x="192.99" y="550.5" width="1.9" height="1" fill="#86dfb4"/><rect x="195.12" y="550.5" width="1.9" height="1" fill="#ffb0a8"/><rect x="197.24" y="550.5" width="1.9" height="1" fill="#ffb0a8"/><rect x="199.36" y="550.5" width="1.9" height="1" fill="#86dfb4"/><rect x="201.48" y="550.5" width="1.9" height="1" fill="#ffb0a8"/><rect x="203.60" y="550.5" width="1.9" height="1" fill="#86dfb4"/><rect x="205.73" y="550.5" width="1.9" height="1" fill="#ffb0a8"/><rect x="207.85" y="550.5" width="1.9" height="1" fill="#86dfb4"/><rect x="209.97" y="550.5" width="1.9" height="1" fill="#ffb0a8"/><rect x="212.09" y="550.5" width="1.9" height="1" fill="#ffb0a8"/><rect x="214.21" y="550.5" width="1.9" height="1" fill="#ffb0a8"/><rect x="216.34" y="550.5" width="1.9" height="1" fill="#86dfb4"/><rect x="218.46" y="550.5" width="1.9" height="1" fill="#ffb0a8"/><rect x="220.58" y="550.5" width="1.9" height="1" fill="#ffb0a8"/><rect x="222.70" y="550.5" width="1.9" height="1" fill="#86dfb4"/><rect x="224.82" y="550.5" width="1.9" height="1" fill="#86dfb4"/><rect x="226.95" y="550.5" width="1.9" height="1" fill="#ffb0a8"/><rect x="229.07" y="550.5" width="1.9" height="1" fill="#ffb0a8"/><rect x="231.19" y="550.5" width="1.9" height="1" fill="#86dfb4"/><rect x="233.31" y="550.5" width="1.9" height="1" fill="#86dfb4"/><rect x="235.43" y="550.5" width="1.9" height="1" fill="#86dfb4"/><rect x="237.56" y="550.5" width="1.9" height="1" fill="#ffb0a8"/><rect x="239.68" y="550.5" width="1.9" height="1" fill="#86dfb4"/><rect x="241.80" y="550.5" width="1.9" height="1" fill="#86dfb4"/><rect x="243.92" y="550.5" width="1.9" height="1" fill="#ffb0a8"/><rect x="246.04" y="550.5" width="1.9" height="1" fill="#86dfb4"/><rect x="248.17" y="550.5" width="1.9" height="1" fill="#ffb0a8"/><rect x="250.29" y="550.5" width="1.9" height="1" fill="#ffb0a8"/><rect x="252.41" y="550.5" width="1.9" height="1" fill="#86dfb4"/><rect x="254.53" y="550.5" width="1.9" height="1" fill="#ffb0a8"/><rect x="256.65" y="550.5" width="1.9" height="1" fill="#ffb0a8"/><rect x="258.78" y="550.5" width="1.9" height="1" fill="#ffb0a8"/><rect x="260.90" y="550.5" width="1.9" height="1" fill="#ffb0a8"/><rect x="263.02" y="550.5" width="1.9" height="1" fill="#86dfb4"/><rect x="265.14" y="550.5" width="1.9" height="1" fill="#ffb0a8"/><rect x="267.26" y="550.5" width="1.9" height="1" fill="#86dfb4"/><rect x="269.39" y="550.5" width="1.9" height="1" fill="#86dfb4"/><rect x="271.51" y="550.5" width="1.9" height="1" fill="#86dfb4"/><rect x="273.63" y="550.5" width="1.9" height="1" fill="#ffb0a8"/><rect x="275.75" y="550.5" width="1.9" height="1" fill="#ffb0a8"/><rect x="277.87" y="550.5" width="1.9" height="1" fill="#ffb0a8"/><rect x="280.00" y="550.5" width="1.9" height="1" fill="#ffb0a8"/><rect x="282.12" y="550.5" width="1.9" height="1" fill="#86dfb4"/><rect x="284.24" y="550.5" width="1.9" height="1" fill="#ffb0a8"/><rect x="286.36" y="550.5" width="1.9" height="1" fill="#86dfb4"/><rect x="288.48" y="550.5" width="1.9" height="1" fill="#86dfb4"/><rect x="290.61" y="550.5" width="1.9" height="1" fill="#ffb0a8"/><rect x="292.73" y="550.5" width="1.9" height="1" fill="#ffb0a8"/><rect x="294.85" y="550.5" width="1.9" height="1" fill="#86dfb4"/><rect x="296.97" y="550.5" width="1.9" height="1" fill="#86dfb4"/><rect x="299.09" y="550.5" width="1.9" height="1" fill="#86dfb4"/><rect x="301.22" y="550.5" width="1.9" height="1" fill="#ffb0a8"/><rect x="303.34" y="550.5" width="1.9" height="1" fill="#ffb0a8"/><rect x="305.46" y="550.5" width="1.9" height="1" fill="#86dfb4"/><rect x="307.58" y="550.5" width="1.9" height="1" fill="#86dfb4"/><rect x="309.70" y="550.5" width="1.9" height="1" fill="#ffb0a8"/><rect x="311.83" y="550.5" width="1.9" height="1" fill="#86dfb4"/><rect x="313.95" y="550.5" width="1.9" height="1" fill="#ffb0a8"/><rect x="316.07" y="550.5" width="1.9" height="1" fill="#86dfb4"/><rect x="318.19" y="550.5" width="1.9" height="1" fill="#86dfb4"/><rect x="320.31" y="550.5" width="1.9" height="1" fill="#ffb0a8"/><rect x="322.44" y="550.5" width="1.9" height="1" fill="#86dfb4"/><rect x="324.56" y="550.5" width="1.9" height="1" fill="#86dfb4"/><rect x="326.68" y="550.5" width="1.9" height="1" fill="#ffb0a8"/><rect x="328.80" y="550.5" width="1.9" height="1" fill="#86dfb4"/><rect x="330.92" y="550.5" width="1.9" height="1" fill="#86dfb4"/><rect x="333.05" y="550.5" width="1.9" height="1" fill="#86dfb4"/><rect x="335.17" y="550.5" width="1.9" height="1" fill="#86dfb4"/><rect x="337.29" y="550.5" width="1.9" height="1" fill="#86dfb4"/><rect x="339.41" y="550.5" width="1.9" height="1" fill="#86dfb4"/><rect x="341.53" y="550.5" width="1.9" height="1" fill="#86dfb4"/><rect x="343.66" y="550.5" width="1.9" height="1" fill="#ffb0a8"/><rect x="345.78" y="550.5" width="1.9" height="1" fill="#ffb0a8"/><rect x="347.90" y="550.5" width="1.9" height="1" fill="#86dfb4"/><rect x="350.02" y="550.5" width="1.9" height="1" fill="#ffb0a8"/><rect x="352.14" y="550.5" width="1.9" height="1" fill="#86dfb4"/><rect x="354.27" y="550.5" width="1.9" height="1" fill="#ffb0a8"/><rect x="356.39" y="550.5" width="1.9" height="1" fill="#ffb0a8"/><rect x="358.51" y="550.5" width="1.9" height="1" fill="#86dfb4"/><rect x="360.63" y="550.5" width="1.9" height="1" fill="#ffb0a8"/><rect x="362.75" y="550.5" width="1.9" height="1" fill="#86dfb4"/><rect x="364.88" y="550.5" width="1.9" height="1" fill="#ffb0a8"/><rect x="367.00" y="550.5" width="1.9" height="1" fill="#86dfb4"/><rect x="369.12" y="550.5" width="1.9" height="1" fill="#86dfb4"/><rect x="371.24" y="550.5" width="1.9" height="1" fill="#ffb0a8"/><rect x="373.36" y="550.5" width="1.9" height="1" fill="#ffb0a8"/><rect x="375.49" y="550.5" width="1.9" height="1" fill="#ffb0a8"/><rect x="377.61" y="550.5" width="1.9" height="1" fill="#ffb0a8"/><rect x="379.73" y="550.5" width="1.9" height="1" fill="#ffb0a8"/><rect x="381.85" y="550.5" width="1.9" height="1" fill="#86dfb4"/><rect x="383.97" y="550.5" width="1.9" height="1" fill="#86dfb4"/><rect x="386.10" y="550.5" width="1.9" height="1" fill="#ffb0a8"/><rect x="388.22" y="550.5" width="1.9" height="1" fill="#ffb0a8"/><rect x="390.34" y="550.5" width="1.9" height="1" fill="#86dfb4"/><rect x="392.46" y="550.5" width="1.9" height="1" fill="#86dfb4"/><rect x="394.58" y="550.5" width="1.9" height="1" fill="#86dfb4"/><rect x="396.71" y="550.5" width="1.9" height="1" fill="#86dfb4"/><rect x="398.83" y="550.5" width="1.9" height="1" fill="#ffb0a8"/><rect x="400.95" y="550.5" width="1.9" height="1" fill="#ffb0a8"/><rect x="403.07" y="550.5" width="1.9" height="1" fill="#ffb0a8"/><rect x="405.19" y="550.5" width="1.9" height="1" fill="#ffb0a8"/><rect x="407.32" y="550.5" width="1.9" height="1" fill="#ffb0a8"/><rect x="409.44" y="550.5" width="1.9" height="1" fill="#86dfb4"/><rect x="411.56" y="550.5" width="1.9" height="1" fill="#ffb0a8"/><rect x="413.68" y="550.5" width="1.9" height="1" fill="#ffb0a8"/><rect x="415.80" y="550.5" width="1.9" height="1" fill="#86dfb4"/><rect x="417.93" y="550.5" width="1.9" height="1" fill="#ffb0a8"/><rect x="420.05" y="550.5" width="1.9" height="1" fill="#ffb0a8"/><rect x="422.17" y="550.5" width="1.9" height="1" fill="#86dfb4"/><rect x="424.29" y="550.5" width="1.9" height="1" fill="#86dfb4"/><rect x="426.41" y="550.5" width="1.9" height="1" fill="#86dfb4"/><rect x="428.54" y="550.5" width="1.9" height="1" fill="#86dfb4"/><rect x="430.66" y="550.5" width="1.9" height="1" fill="#ffb0a8"/><rect x="432.78" y="550.5" width="1.9" height="1" fill="#86dfb4"/><rect x="434.90" y="550.5" width="1.9" height="1" fill="#ffb0a8"/><rect x="437.02" y="550.5" width="1.9" height="1" fill="#86dfb4"/><rect x="439.15" y="550.5" width="1.9" height="1" fill="#86dfb4"/><rect x="441.27" y="550.5" width="1.9" height="1" fill="#86dfb4"/><rect x="443.39" y="550.5" width="1.9" height="1" fill="#86dfb4"/><rect x="445.51" y="550.5" width="1.9" height="1" fill="#86dfb4"/><rect x="447.63" y="550.5" width="1.9" height="1" fill="#ffb0a8"/><rect x="449.76" y="550.5" width="1.9" height="1" fill="#86dfb4"/><rect x="451.88" y="550.5" width="1.9" height="1" fill="#ffb0a8"/><rect x="454.00" y="550.5" width="1.9" height="1" fill="#ffb0a8"/><rect x="456.12" y="550.5" width="1.9" height="1" fill="#ffb0a8"/><rect x="458.24" y="550.5" width="1.9" height="1" fill="#ffb0a8"/><rect x="460.37" y="550.5" width="1.9" height="1" fill="#86dfb4"/><rect x="462.49" y="550.5" width="1.9" height="1" fill="#86dfb4"/><rect x="464.61" y="550.5" width="1.9" height="1" fill="#ffb0a8"/><rect x="466.73" y="550.5" width="1.9" height="1" fill="#86dfb4"/><rect x="468.85" y="550.5" width="1.9" height="1" fill="#ffb0a8"/><rect x="470.98" y="550.5" width="1.9" height="1" fill="#ffb0a8"/><rect x="473.10" y="550.5" width="1.9" height="1" fill="#86dfb4"/><rect x="475.22" y="550.5" width="1.9" height="1" fill="#86dfb4"/><rect x="477.34" y="550.5" width="1.9" height="1" fill="#86dfb4"/><rect x="479.46" y="550.5" width="1.9" height="1" fill="#86dfb4"/><rect x="481.59" y="550.5" width="1.9" height="1" fill="#86dfb4"/><rect x="483.71" y="550.5" width="1.9" height="1" fill="#86dfb4"/><rect x="485.83" y="550.5" width="1.9" height="1" fill="#86dfb4"/><rect x="487.95" y="550.5" width="1.9" height="1" fill="#86dfb4"/><rect x="490.07" y="550.5" width="1.9" height="1" fill="#86dfb4"/><rect x="492.20" y="550.5" width="1.9" height="1" fill="#ffb0a8"/><rect x="494.32" y="550.5" width="1.9" height="1" fill="#86dfb4"/><rect x="496.44" y="550.5" width="1.9" height="1" fill="#ffb0a8"/><rect x="498.56" y="550.5" width="1.9" height="1" fill="#ffb0a8"/><rect x="500.68" y="550.5" width="1.9" height="1" fill="#86dfb4"/><rect x="502.81" y="550.5" width="1.9" height="1" fill="#ffb0a8"/><rect x="504.93" y="550.5" width="1.9" height="1" fill="#86dfb4"/><rect x="507.05" y="550.5" width="1.9" height="1" fill="#ffb0a8"/><rect x="509.17" y="550.5" width="1.9" height="1" fill="#86dfb4"/><rect x="511.29" y="550.5" width="1.9" height="1" fill="#ffb0a8"/><rect x="513.42" y="550.5" width="1.9" height="1" fill="#86dfb4"/><rect x="515.54" y="550.5" width="1.9" height="1" fill="#86dfb4"/><rect x="517.66" y="550.5" width="1.9" height="1" fill="#86dfb4"/><rect x="519.78" y="550.5" width="1.9" height="1" fill="#ffb0a8"/><rect x="521.90" y="550.5" width="1.9" height="1" fill="#86dfb4"/><rect x="524.03" y="550.5" width="1.9" height="1" fill="#86dfb4"/><rect x="526.15" y="550.5" width="1.9" height="1" fill="#86dfb4"/><rect x="528.27" y="550.5" width="1.9" height="1" fill="#ffb0a8"/><rect x="530.39" y="550.5" width="1.9" height="1" fill="#ffb0a8"/><rect x="533.71" y="520.20" width="1.9" height="30.80" fill="#86dfb4"/><rect x="535.84" y="511.29" width="1.9" height="39.71" fill="#ffb0a8"/><rect x="537.96" y="503.50" width="1.9" height="47.50" fill="#ffb0a8"/><rect x="540.08" y="511.29" width="1.9" height="39.71" fill="#86dfb4"/><rect x="542.20" y="503.50" width="1.9" height="47.50" fill="#ffb0a8"/><rect x="544.32" y="505.72" width="1.9" height="45.28" fill="#86dfb4"/><rect x="546.45" y="507.95" width="1.9" height="43.05" fill="#ffb0a8"/><rect x="548.57" y="511.29" width="1.9" height="39.71" fill="#86dfb4"/><rect x="550.69" y="509.06" width="1.9" height="41.94" fill="#86dfb4"/><rect x="552.81" y="506.84" width="1.9" height="44.16" fill="#ffb0a8"/><rect x="554.93" y="509.06" width="1.9" height="41.94" fill="#ffb0a8"/><rect x="557.06" y="512.41" width="1.9" height="38.59" fill="#ffb0a8"/><rect x="559.18" y="505.72" width="1.9" height="45.28" fill="#ffb0a8"/><rect x="561.30" y="485.68" width="1.9" height="65.32" fill="#ffb0a8"/><rect x="563.42" y="506.84" width="1.9" height="44.16" fill="#ffb0a8"/><rect x="565.54" y="510.18" width="1.9" height="40.82" fill="#86dfb4"/><rect x="567.67" y="511.29" width="1.9" height="39.71" fill="#ffb0a8"/><rect x="569.79" y="512.41" width="1.9" height="38.59" fill="#ffb0a8"/><rect x="571.91" y="500.16" width="1.9" height="50.84" fill="#86dfb4"/><rect x="574.03" y="493.47" width="1.9" height="57.53" fill="#86dfb4"/><rect x="576.15" y="496.82" width="1.9" height="54.18" fill="#86dfb4"/><rect x="578.28" y="493.47" width="1.9" height="57.53" fill="#86dfb4"/><rect x="580.40" y="500.16" width="1.9" height="50.84" fill="#86dfb4"/><rect x="582.52" y="505.72" width="1.9" height="45.28" fill="#86dfb4"/><rect x="584.64" y="511.29" width="1.9" height="39.71" fill="#ffb0a8"/><rect x="586.76" y="504.61" width="1.9" height="46.39" fill="#ffb0a8"/><rect x="588.89" y="501.27" width="1.9" height="49.73" fill="#86dfb4"/><rect x="591.01" y="499.60" width="1.9" height="51.40" fill="#86dfb4"/><rect x="593.13" y="497.93" width="1.9" height="53.07" fill="#ffb0a8"/><rect x="595.25" y="513.52" width="1.9" height="37.48" fill="#ffb0a8"/><rect x="597.37" y="506.84" width="1.9" height="44.16" fill="#86dfb4"/><rect x="599.50" y="504.61" width="1.9" height="46.39" fill="#ffb0a8"/><rect x="601.62" y="503.50" width="1.9" height="47.50" fill="#ffb0a8"/><rect x="603.74" y="509.06" width="1.9" height="41.94" fill="#ffb0a8"/><rect x="605.86" y="505.72" width="1.9" height="45.28" fill="#86dfb4"/><rect x="607.98" y="512.41" width="1.9" height="38.59" fill="#ffb0a8"/><rect x="610.11" y="513.52" width="1.9" height="37.48" fill="#86dfb4"/><rect x="612.23" y="505.72" width="1.9" height="45.28" fill="#ffb0a8"/><rect x="614.35" y="509.06" width="1.9" height="41.94" fill="#ffb0a8"/><rect x="616.47" y="510.18" width="1.9" height="40.82" fill="#86dfb4"/><rect x="618.59" y="510.18" width="1.9" height="40.82" fill="#86dfb4"/><rect x="620.72" y="503.50" width="1.9" height="47.50" fill="#86dfb4"/><rect x="622.84" y="477.88" width="1.9" height="73.12" fill="#ffb0a8"/><rect x="624.96" y="505.72" width="1.9" height="45.28" fill="#86dfb4"/><rect x="627.08" y="513.52" width="1.9" height="37.48" fill="#ffb0a8"/><rect x="629.20" y="506.84" width="1.9" height="44.16" fill="#86dfb4"/><rect x="631.33" y="502.38" width="1.9" height="48.62" fill="#86dfb4"/><rect x="633.45" y="497.93" width="1.9" height="53.07" fill="#ffb0a8"/><rect x="635.57" y="509.06" width="1.9" height="41.94" fill="#ffb0a8"/><rect x="637.69" y="514.63" width="1.9" height="36.37" fill="#86dfb4"/><rect x="639.81" y="516.86" width="1.9" height="34.14" fill="#ffb0a8"/><rect x="641.94" y="517.97" width="1.9" height="33.03" fill="#ffb0a8"/><rect x="644.06" y="507.95" width="1.9" height="43.05" fill="#86dfb4"/><rect x="646.18" y="497.93" width="1.9" height="53.07" fill="#86dfb4"/><rect x="648.30" y="500.16" width="1.9" height="50.84" fill="#86dfb4"/><rect x="650.42" y="511.29" width="1.9" height="39.71" fill="#ffb0a8"/><rect x="652.55" y="509.06" width="1.9" height="41.94" fill="#ffb0a8"/><rect x="654.67" y="512.41" width="1.9" height="38.59" fill="#86dfb4"/><rect x="656.79" y="513.52" width="1.9" height="37.48" fill="#ffb0a8"/><rect x="658.91" y="512.41" width="1.9" height="38.59" fill="#86dfb4"/><rect x="661.03" y="509.06" width="1.9" height="41.94" fill="#86dfb4"/><rect x="663.16" y="510.18" width="1.9" height="40.82" fill="#86dfb4"/><rect x="665.28" y="497.93" width="1.9" height="53.07" fill="#86dfb4"/><rect x="667.40" y="484.57" width="1.9" height="66.43" fill="#86dfb4"/><rect x="669.52" y="470.09" width="1.9" height="80.91" fill="#86dfb4"/><rect x="671.64" y="485.68" width="1.9" height="65.32" fill="#86dfb4"/><rect x="673.77" y="470.65" width="1.9" height="80.35" fill="#86dfb4"/><rect x="675.89" y="455.61" width="1.9" height="95.39" fill="#86dfb4"/><rect x="678.01" y="440.69" width="1.9" height="110.31" fill="#ffb0a8"/><rect x="680.13" y="477.88" width="1.9" height="73.12" fill="#86dfb4"/><rect x="682.25" y="486.79" width="1.9" height="64.21" fill="#ffb0a8"/><rect x="684.38" y="501.27" width="1.9" height="49.73" fill="#ffb0a8"/><rect x="686.50" y="505.72" width="1.9" height="45.28" fill="#ffb0a8"/><rect x="688.62" y="503.50" width="1.9" height="47.50" fill="#ffb0a8"/><rect x="690.74" y="502.38" width="1.9" height="48.62" fill="#86dfb4"/><rect x="692.86" y="493.47" width="1.9" height="57.53" fill="#ffb0a8"/><rect x="694.99" y="502.38" width="1.9" height="48.62" fill="#86dfb4"/><rect x="697.11" y="499.04" width="1.9" height="51.96" fill="#86dfb4"/><rect x="699.23" y="505.35" width="1.9" height="45.65" fill="#ffb0a8"/><rect x="701.35" y="511.67" width="1.9" height="39.33" fill="#ffb0a8"/><rect x="703.47" y="510.32" width="1.9" height="40.68" fill="#86dfb4"/><rect x="705.60" y="511.67" width="1.9" height="39.33" fill="#86dfb4"/><rect x="707.72" y="513.01" width="1.9" height="37.99" fill="#86dfb4"/><rect x="709.84" y="515.70" width="1.9" height="35.30" fill="#ffb0a8"/><rect x="711.96" y="513.01" width="1.9" height="37.99" fill="#86dfb4"/><rect x="714.08" y="498.23" width="1.9" height="52.77" fill="#86dfb4"/><rect x="716.21" y="502.26" width="1.9" height="48.74" fill="#86dfb4"/><rect x="718.33" y="506.29" width="1.9" height="44.71" fill="#ffb0a8"/><rect x="720.45" y="504.95" width="1.9" height="46.05" fill="#ffb0a8"/><rect x="722.57" y="502.26" width="1.9" height="48.74" fill="#86dfb4"/><rect x="724.69" y="503.60" width="1.9" height="47.40" fill="#86dfb4"/><rect x="726.82" y="502.26" width="1.9" height="48.74" fill="#86dfb4"/><rect x="728.94" y="500.91" width="1.9" height="50.09" fill="#86dfb4"/><rect x="731.06" y="498.23" width="1.9" height="52.77" fill="#ffb0a8"/><rect x="733.18" y="499.57" width="1.9" height="51.43" fill="#86dfb4"/><rect x="735.30" y="494.19" width="1.9" height="56.81" fill="#ffb0a8"/><rect x="737.43" y="499.57" width="1.9" height="51.43" fill="#ffb0a8"/><rect x="739.55" y="504.95" width="1.9" height="46.05" fill="#86dfb4"/><rect x="741.67" y="511.67" width="1.9" height="39.33" fill="#86dfb4"/><rect x="743.79" y="507.63" width="1.9" height="43.37" fill="#ffb0a8"/><rect x="745.91" y="504.95" width="1.9" height="46.05" fill="#ffb0a8"/><rect x="748.04" y="487.47" width="1.9" height="63.53" fill="#ffb0a8"/><rect x="750.16" y="502.26" width="1.9" height="48.74" fill="#86dfb4"/><rect x="752.28" y="506.96" width="1.9" height="44.04" fill="#ffb0a8"/><rect x="754.40" y="511.67" width="1.9" height="39.33" fill="#86dfb4"/><rect x="756.52" y="503.60" width="1.9" height="47.40" fill="#ffb0a8"/><rect x="758.65" y="508.98" width="1.9" height="42.02" fill="#86dfb4"/><rect x="760.77" y="510.32" width="1.9" height="40.68" fill="#86dfb4"/><rect x="762.89" y="513.68" width="1.9" height="37.32" fill="#ffb0a8"/><rect x="765.01" y="517.04" width="1.9" height="33.96" fill="#86dfb4"/><rect x="767.13" y="501.72" width="1.9" height="49.28" fill="#86dfb4"/><rect x="769.26" y="503.60" width="1.9" height="47.40" fill="#86dfb4"/><rect x="771.38" y="514.35" width="1.9" height="36.65" fill="#ffb0a8"/><rect x="773.50" y="511.67" width="1.9" height="39.33" fill="#86dfb4"/><rect x="775.62" y="511.67" width="1.9" height="39.33" fill="#ffb0a8"/><rect x="777.74" y="511.67" width="1.9" height="39.33" fill="#ffb0a8"/><rect x="779.87" y="514.35" width="1.9" height="36.65" fill="#ffb0a8"/><rect x="781.99" y="515.70" width="1.9" height="35.30" fill="#86dfb4"/><rect x="784.11" y="521.08" width="1.9" height="29.92" fill="#ffb0a8"/><rect x="786.23" y="521.75" width="1.9" height="29.25" fill="#ffb0a8"/><rect x="788.35" y="522.42" width="1.9" height="28.58" fill="#86dfb4"/><rect x="790.48" y="521.08" width="1.9" height="29.92" fill="#86dfb4"/><rect x="792.60" y="519.73" width="1.9" height="31.27" fill="#86dfb4"/><rect x="794.72" y="526.45" width="1.9" height="24.55" fill="#ffb0a8"/><rect x="796.84" y="526.45" width="1.9" height="24.55" fill="#86dfb4"/><rect x="798.96" y="526.45" width="1.9" height="24.55" fill="#86dfb4"/><rect x="801.09" y="522.42" width="1.9" height="28.58" fill="#ffb0a8"/><rect x="803.21" y="527.80" width="1.9" height="23.20" fill="#86dfb4"/><rect x="805.33" y="526.45" width="1.9" height="24.55" fill="#ffb0a8"/><rect x="807.45" y="527.12" width="1.9" height="23.88" fill="#86dfb4"/><rect x="809.57" y="527.80" width="1.9" height="23.20" fill="#86dfb4"/><rect x="811.70" y="527.80" width="1.9" height="23.20" fill="#86dfb4"/><rect x="813.82" y="527.80" width="1.9" height="23.20" fill="#86dfb4"/><rect x="815.94" y="522.42" width="1.9" height="28.58" fill="#ffb0a8"/><rect x="818.06" y="525.11" width="1.9" height="25.89" fill="#ffb0a8"/><rect x="820.18" y="527.12" width="1.9" height="23.88" fill="#ffb0a8"/><rect x="822.31" y="529.14" width="1.9" height="21.86" fill="#86dfb4"/><rect x="824.43" y="530.48" width="1.9" height="20.52" fill="#86dfb4"/><rect x="826.55" y="527.80" width="1.9" height="23.20" fill="#ffb0a8"/><rect x="828.67" y="530.48" width="1.9" height="20.52" fill="#86dfb4"/><rect x="830.79" y="529.14" width="1.9" height="21.86" fill="#ffb0a8"/><rect x="832.92" y="527.80" width="1.9" height="23.20" fill="#ffb0a8"/><rect x="835.04" y="531.83" width="1.9" height="19.17" fill="#86dfb4"/><rect x="837.16" y="529.14" width="1.9" height="21.86" fill="#86dfb4"/><rect x="839.28" y="528.47" width="1.9" height="22.53" fill="#86dfb4"/><rect x="841.40" y="527.80" width="1.9" height="23.20" fill="#86dfb4"/><rect x="843.53" y="530.48" width="1.9" height="20.52" fill="#86dfb4"/><rect x="845.65" y="533.17" width="1.9" height="17.83" fill="#86dfb4"/><rect x="847.77" y="529.14" width="1.9" height="21.86" fill="#ffb0a8"/><rect x="849.89" y="516.37" width="1.9" height="34.63" fill="#ffb0a8"/><rect x="852.01" y="503.60" width="1.9" height="47.40" fill="#ffb0a8"/><rect x="854.14" y="522.42" width="1.9" height="28.58" fill="#86dfb4"/><rect x="856.26" y="523.09" width="1.9" height="27.91" fill="#86dfb4"/><rect x="858.38" y="523.76" width="1.9" height="27.24" fill="#86dfb4"/><rect x="860.50" y="527.80" width="1.9" height="23.20" fill="#86dfb4"/><rect x="862.62" y="529.14" width="1.9" height="21.86" fill="#86dfb4"/><rect x="864.75" y="533.17" width="1.9" height="17.83" fill="#86dfb4"/><rect x="866.87" y="529.81" width="1.9" height="21.19" fill="#ffb0a8"/><rect x="868.99" y="526.45" width="1.9" height="24.55" fill="#86dfb4"/><rect x="871.11" y="530.48" width="1.9" height="20.52" fill="#86dfb4"/><rect x="873.23" y="529.14" width="1.9" height="21.86" fill="#86dfb4"/><rect x="875.36" y="525.11" width="1.9" height="25.89" fill="#86dfb4"/><rect x="877.48" y="521.08" width="1.9" height="29.92" fill="#ffb0a8"/><rect x="879.60" y="531.83" width="1.9" height="19.17" fill="#ffb0a8"/><rect x="881.72" y="531.83" width="1.9" height="19.17" fill="#ffb0a8"/><rect x="883.84" y="533.17" width="1.9" height="17.83" fill="#ffb0a8"/><rect x="885.97" y="532.50" width="1.9" height="18.50" fill="#ffb0a8"/><rect x="888.09" y="531.83" width="1.9" height="19.17" fill="#86dfb4"/><rect x="890.21" y="526.45" width="1.9" height="24.55" fill="#86dfb4"/><rect x="892.33" y="526.45" width="1.9" height="24.55" fill="#ffb0a8"/><rect x="894.45" y="530.48" width="1.9" height="20.52" fill="#ffb0a8"/><rect x="896.58" y="530.48" width="1.9" height="20.52" fill="#86dfb4"/><rect x="898.70" y="530.48" width="1.9" height="20.52" fill="#ffb0a8"/><rect x="900.82" y="530.48" width="1.9" height="20.52" fill="#86dfb4"/><rect x="902.94" y="522.42" width="1.9" height="28.58" fill="#86dfb4"/><rect x="905.06" y="527.80" width="1.9" height="23.20" fill="#86dfb4"/><rect x="907.19" y="527.12" width="1.9" height="23.88" fill="#86dfb4"/><rect x="909.31" y="526.45" width="1.9" height="24.55" fill="#ffb0a8"/><rect x="911.43" y="530.48" width="1.9" height="20.52" fill="#86dfb4"/><rect x="913.55" y="530.48" width="1.9" height="20.52" fill="#86dfb4"/><rect x="915.67" y="529.14" width="1.9" height="21.86" fill="#ffb0a8"/><rect x="917.80" y="527.80" width="1.9" height="23.20" fill="#86dfb4"/><rect x="919.92" y="527.80" width="1.9" height="23.20" fill="#86dfb4"/><rect x="922.04" y="529.14" width="1.9" height="21.86" fill="#ffb0a8"/><rect x="924.16" y="529.14" width="1.9" height="21.86" fill="#ffb0a8"/><rect x="926.28" y="526.45" width="1.9" height="24.55" fill="#86dfb4"/><rect x="928.41" y="523.76" width="1.9" height="27.24" fill="#86dfb4"/><rect x="930.53" y="526.45" width="1.9" height="24.55" fill="#86dfb4"/><rect x="932.65" y="519.73" width="1.9" height="31.27" fill="#86dfb4"/><rect x="934.77" y="518.39" width="1.9" height="32.61" fill="#86dfb4"/><rect x="936.89" y="519.06" width="1.9" height="31.94" fill="#ffb0a8"/><rect x="939.02" y="519.73" width="1.9" height="31.27" fill="#ffb0a8"/><rect x="941.14" y="518.39" width="1.9" height="32.61" fill="#ffb0a8"/><rect x="943.26" y="518.39" width="1.9" height="32.61" fill="#ffb0a8"/><rect x="945.38" y="519.73" width="1.9" height="31.27" fill="#86dfb4"/><rect x="947.50" y="519.06" width="1.9" height="31.94" fill="#ffb0a8"/><rect x="949.63" y="518.39" width="1.9" height="32.61" fill="#86dfb4"/><rect x="951.75" y="513.01" width="1.9" height="37.99" fill="#86dfb4"/><rect x="953.87" y="512.20" width="1.9" height="38.80" fill="#86dfb4"/><rect x="955.99" y="511.94" width="1.9" height="39.06" fill="#ffb0a8"/><rect x="958.11" y="511.67" width="1.9" height="39.33" fill="#ffb0a8"/><rect x="960.24" y="510.86" width="1.9" height="40.14" fill="#86dfb4"/><rect x="962.36" y="512.47" width="1.9" height="38.53" fill="#ffb0a8"/><rect x="964.48" y="547.40" width="1.9" height="3.60" fill="#ffb0a8"/></g>
<polyline points="19.0,549.8 531.4,549.8 533.4,547.8 536.1,543.7 540.2,539.7 546.9,533.7 552.2,529.0 557.6,523.6 563.0,517.5 567.0,514.2 571.0,508.8 573.7,505.9 577.8,504.5 581.8,503.8 587.2,503.8 592.6,503.0 597.9,502.8 602.0,502.9 606.0,503.4 614.0,503.7 618.1,504.5 622.1,505.0 627.5,505.0 632.9,505.5 638.2,506.4 642.3,507.3 645.4,506.5 648.1,506.2 653.4,507.3 660.2,507.5 664.9,508.5 668.2,507.5 673.6,503.5 677.6,498.8 681.7,495.2 685.7,493.8 689.7,494.8 695.1,493.0 699.1,492.6 705.8,492.6 709.9,494.1 715.2,496.8 719.3,500.8 722.0,504.2 726.0,505.1 730.0,504.2 735.4,503.9 739.4,505.1 743.5,503.9 747.5,502.6 751.5,501.5 755.5,502.2 760.9,502.8 765.0,503.6 770.3,503.9 775.0,504.6 780.8,506.5 786.5,508.4 792.3,511.9 798.0,514.2 803.8,517.1 809.5,520.0 815.3,521.9 821.1,523.4 826.8,524.2 832.6,525.7 838.3,526.7 844.1,527.2 849.9,527.2 853.7,526.3 857.5,526.1 861.4,527.2 867.1,527.2 872.9,527.2 878.6,526.7 884.4,526.7 890.2,525.7 894.0,526.7 897.8,528.6 903.6,528.6 909.4,527.6 915.1,527.2 920.9,527.2 926.6,527.6 932.4,526.7 938.1,525.7 943.9,524.8 949.7,523.8 955.4,521.9 961.2,519.0 964.1,520.0" fill="none" stroke="#7c7c7c" stroke-width="1.6" stroke-linejoin="round" opacity="0.9"/>
<line x1="0" y1="426.5" x2="1042" y2="426.5" stroke="#555" stroke-width="1"/>
<rect x="975" y="0" width="1" height="560" fill="#808080"/><rect x="976" y="0" width="1" height="560" fill="#ababab"/>
<rect x="0" y="558" width="976" height="1" fill="#7c7c7c"/><rect x="0" y="559" width="977" height="1" fill="#ababab"/>
<line x1="976" y1="392.0" x2="980" y2="392.0" stroke="#555" stroke-width="1"/><text x="984.5" y="397.7" class="ax">8000.00</text><line x1="976" y1="351.0" x2="980" y2="351.0" stroke="#555" stroke-width="1"/><text x="984.5" y="356.7" class="ax">12000.00</text><line x1="976" y1="310.0" x2="980" y2="310.0" stroke="#555" stroke-width="1"/><text x="984.5" y="315.7" class="ax">16000.00</text><line x1="976" y1="269.0" x2="980" y2="269.0" stroke="#555" stroke-width="1"/><text x="984.5" y="274.7" class="ax">20000.00</text><line x1="976" y1="228.0" x2="980" y2="228.0" stroke="#555" stroke-width="1"/><text x="984.5" y="233.7" class="ax">24000.00</text><line x1="976" y1="187.0" x2="980" y2="187.0" stroke="#555" stroke-width="1"/><text x="984.5" y="192.7" class="ax">28000.00</text><line x1="976" y1="146.0" x2="980" y2="146.0" stroke="#555" stroke-width="1"/><text x="984.5" y="151.7" class="ax">32000.00</text><line x1="976" y1="105.0" x2="980" y2="105.0" stroke="#555" stroke-width="1"/><text x="984.5" y="110.7" class="ax">36000.00</text><line x1="976" y1="64.0" x2="980" y2="64.0" stroke="#555" stroke-width="1"/><text x="984.5" y="69.7" class="ax">40000.00</text><line x1="976" y1="23.0" x2="980" y2="23.0" stroke="#555" stroke-width="1"/><text x="984.5" y="28.7" class="ax">44000.00</text>
<line x1="976" y1="436.5" x2="980" y2="436.5" stroke="#555" stroke-width="1"/><text x="984.5" y="442.2" class="ax">75B</text><line x1="976" y1="474.5" x2="980" y2="474.5" stroke="#555" stroke-width="1"/><text x="984.5" y="480.2" class="ax">50B</text><line x1="976" y1="512.5" x2="980" y2="512.5" stroke="#555" stroke-width="1"/><text x="984.5" y="518.2" class="ax">25B</text>
<line x1="84.1" y1="558" x2="84.1" y2="563" stroke="#555" stroke-width="1"/><text x="84.1" y="577" class="tx" text-anchor="middle">1990</text><line x1="186.0" y1="558" x2="186.0" y2="563" stroke="#555" stroke-width="1"/><text x="186.0" y="577" class="tx" text-anchor="middle">1994</text><line x1="287.8" y1="558" x2="287.8" y2="563" stroke="#555" stroke-width="1"/><text x="287.8" y="577" class="tx" text-anchor="middle">1998</text><line x1="389.7" y1="558" x2="389.7" y2="563" stroke="#555" stroke-width="1"/><text x="389.7" y="577" class="tx" text-anchor="middle">2002</text><line x1="491.5" y1="558" x2="491.5" y2="563" stroke="#555" stroke-width="1"/><text x="491.5" y="577" class="tx" text-anchor="middle">2006</text><line x1="593.4" y1="558" x2="593.4" y2="563" stroke="#555" stroke-width="1"/><text x="593.4" y="577" class="tx" text-anchor="middle">2010</text><line x1="695.2" y1="558" x2="695.2" y2="563" stroke="#555" stroke-width="1"/><text x="695.2" y="577" class="tx" text-anchor="middle">2014</text><line x1="797.1" y1="558" x2="797.1" y2="563" stroke="#555" stroke-width="1"/><text x="797.1" y="577" class="tx" text-anchor="middle">2018</text><line x1="898.9" y1="558" x2="898.9" y2="563" stroke="#555" stroke-width="1"/><text x="898.9" y="577" class="tx" text-anchor="middle">2022</text>
<rect x="975" y="146" width="67" height="20" fill="#4a6fe0"/>
<line x1="976" y1="155.5" x2="980" y2="155.5" stroke="#ddd" stroke-width="1"/>
<text x="984.5" y="161" class="ax" fill="#fff" style="fill:#fff">31078.00</text>
<rect x="975" y="511" width="65" height="19.6" fill="#000"/>
<line x1="976" y1="520.5" x2="979" y2="520.5" stroke="#888" stroke-width="1"/>
<text x="985" y="525.8" class="ax" style="fill:#fff">19.582B</text>
<rect x="975" y="537" width="57.5" height="19.7" fill="#f26a5f"/>
<line x1="976" y1="546.5" x2="979" y2="546.5" stroke="#fff" stroke-width="1"/>
<text x="984" y="552" class="ax" style="fill:#fff">2.043B</text>
<rect x="405" y="11" width="17" height="17" fill="#d8d8d8"/><path d="M406.80,19.50 C409.30,12.20 417.70,12.20 420.20,19.50 C417.70,26.80 409.30,26.80 406.80,19.50 Z" fill="#fff"/><circle cx="413.50" cy="19.50" r="2.55" fill="none" stroke="#d8d8d8" stroke-width="1.7"/><rect x="426" y="11" width="17" height="17" fill="#d8d8d8"/><path d="M439.26,18.32 L441.13,18.56 L441.13,20.44 L439.26,20.68 L438.70,22.03 L439.86,23.52 L438.52,24.86 L437.03,23.70 L435.68,24.26 L435.44,26.13 L433.56,26.13 L433.32,24.26 L431.97,23.70 L430.48,24.86 L429.14,23.52 L430.30,22.03 L429.74,20.68 L427.87,20.44 L427.87,18.56 L429.74,18.32 L430.30,16.97 L429.14,15.48 L430.48,14.14 L431.97,15.30 L433.32,14.74 L433.56,12.87 L435.44,12.87 L435.68,14.74 L437.03,15.30 L438.52,14.14 L439.86,15.48 L438.70,16.97 Z" fill="#fff"/><circle cx="434.50" cy="19.50" r="2.4" fill="#d8d8d8"/><rect x="112" y="439" width="16.7" height="16.7" fill="#d8d8d8"/><path d="M113.65,447.35 C116.15,440.05 124.55,440.05 127.05,447.35 C124.55,454.65 116.15,454.65 113.65,447.35 Z" fill="#fff"/><circle cx="120.35" cy="447.35" r="2.55" fill="none" stroke="#d8d8d8" stroke-width="1.7"/><rect x="133.2" y="439" width="16.7" height="16.7" fill="#d8d8d8"/><path d="M146.31,446.17 L148.18,446.41 L148.18,448.29 L146.31,448.53 L145.75,449.88 L146.91,451.37 L145.57,452.71 L144.08,451.55 L142.73,452.11 L142.49,453.98 L140.61,453.98 L140.37,452.11 L139.02,451.55 L137.53,452.71 L136.19,451.37 L137.35,449.88 L136.79,448.53 L134.92,448.29 L134.92,446.41 L136.79,446.17 L137.35,444.82 L136.19,443.33 L137.53,441.99 L139.02,443.15 L140.37,442.59 L140.61,440.72 L142.49,440.72 L142.73,442.59 L144.08,443.15 L145.57,441.99 L146.91,443.33 L145.75,444.82 Z" fill="#fff"/><circle cx="141.55" cy="447.35" r="2.4" fill="#d8d8d8"/><rect x="155" y="439" width="16.7" height="16.7" fill="#d8d8d8"/><path d="M158.5,442.5 L168.2,452.2 M168.2,442.5 L158.5,452.2" stroke="#fff" stroke-width="1.6"/>
<circle cx="956.3" cy="35.6" r="9.7" fill="#1a8cf5"/>
<text x="956.9" y="38.9" text-anchor="middle" style="font:bold 13.8px 'Liberation Sans',sans-serif;fill:#fff">P</text>
</svg>
<div id="lb"></div><div id="bb"></div>
<div class="t" style="left:8px;top:9px;width:16px;height:16px;border:1.3px solid #666;border-radius:2.5px"></div>
<div class="t" style="left:10.6px;top:16.4px;width:11px;height:1.3px;background:#707070"></div>
<div class="t lab" style="left:30.5px;top:8.5px;font-size:20.5px;letter-spacing:0.4px;color:#555">Nikkei 225, Япония, M, Токио (CFD)</div>
<div class="t" style="left:382.5px;top:16px;width:0;height:0;border-left:4.7px solid transparent;border-right:4.7px solid transparent;border-top:5px solid #c4c4c4"></div>
<div class="t lab" style="left:7.5px;top:37.5px;font-size:17px;letter-spacing:0.15px">ОТКР</div>
<div class="t val" style="left:55px;top:37.5px;font-size:17px;letter-spacing:0.45px">38697.50</div>
<div class="t lab" style="left:141.5px;top:37.5px;font-size:17px;letter-spacing:0.15px">МАКС</div>
<div class="t val" style="left:191px;top:37.5px;font-size:17px;letter-spacing:0.15px">38697.50</div>
<div class="t lab" style="left:276.5px;top:37.5px;font-size:17px;letter-spacing:0.15px">МИН</div>
<div class="t val" style="left:317.5px;top:37.5px;font-size:17px;letter-spacing:0.15px">30423.00</div>
<div class="t lab" style="left:402.5px;top:37.5px;font-size:17px;letter-spacing:0.15px">ЗАКР</div>
<div class="t val" style="left:448px;top:37.5px;font-size:17px;letter-spacing:0.15px">31078.00</div>
<div class="t lab" style="left:7.5px;top:438.3px;font-size:15.2px;letter-spacing:-0.05px;color:#555">Объём (20)</div>
<div class="t" style="left:91px;top:444px;width:0;height:0;border-left:4.5px solid transparent;border-right:4.5px solid transparent;border-top:5px solid #c4c4c4"></div>
<div class="t" style="left:182.5px;top:439.8px;font-size:15px;letter-spacing:-0.15px;color:#f0625a">2.043B</div>
<div class="t" style="left:241px;top:439.8px;font-size:15px;letter-spacing:-0.3px;color:#222">19.582B</div>
<div class="t" id="logo" style="left:17px;top:383.3px;font-size:27.5px;font-weight:bold;color:#0a0a0a;letter-spacing:-0.85px;-webkit-text-stroke:0.7px #0a0a0a">Invest<span id="di">ı</span>ng<span style="font-size:21px;font-weight:normal;letter-spacing:-2.1px;color:#4a4a4a;margin-left:0.8px;-webkit-text-stroke:0">.com</span></div>
<div class="t" style="left:92.2px;top:384.4px;width:4.8px;height:6px;background:#f7a21b;transform:skewX(-16deg);border-radius:2.2px 2.2px 1.5px 1.5px"></div>
</body></html>
